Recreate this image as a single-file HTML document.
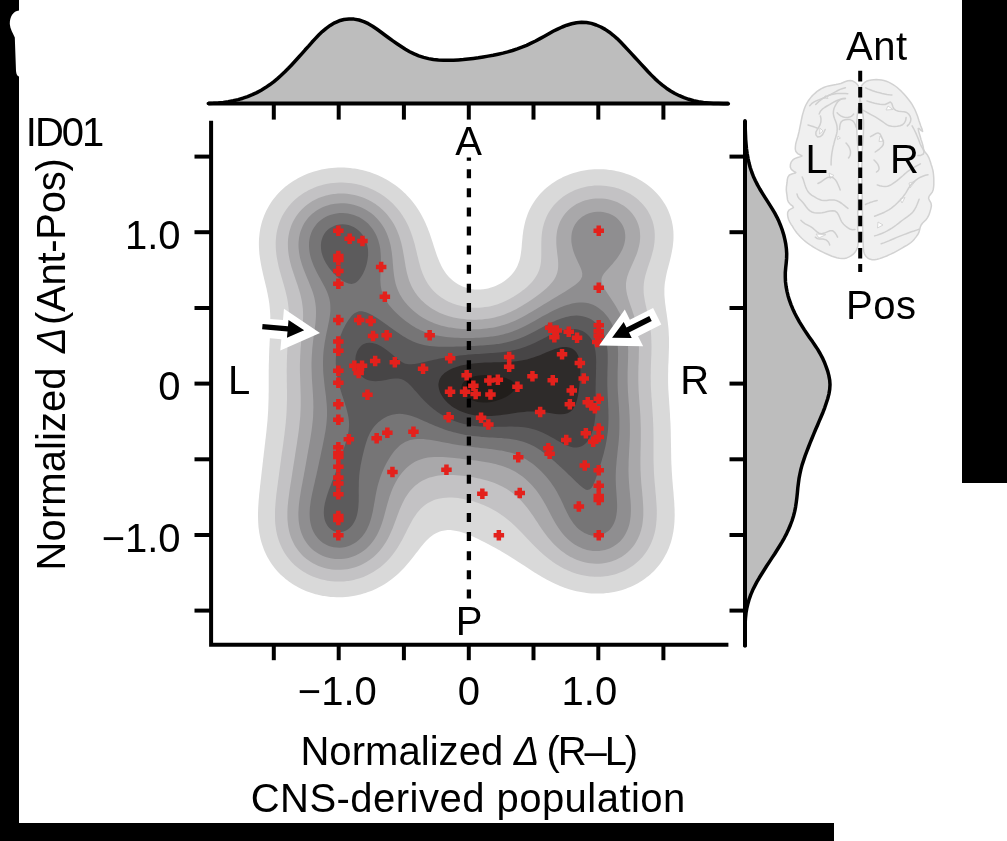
<!DOCTYPE html>
<html lang="en"><head><meta charset="utf-8"><title>Figure</title>
<style>html,body{margin:0;padding:0;background:#fff;overflow:hidden}svg text{white-space:pre}</style></head>
<body>
<svg width="1007" height="841" viewBox="0 0 1007 841" style="display:block;font-family:'Liberation Sans',sans-serif">
<rect width="1007" height="841" fill="#fff"/>
<path d="M0,0H19V10.5C13,11 9.8,17 9.8,24C10,29 13,33 14.8,37.5L16,71C16.3,74.5 17.5,76 19,76.5V823H834V841H0Z" fill="#000"/>
<rect x="962" y="0" width="45" height="483" fill="#000"/>
<defs><filter id="soft" x="0" y="0" width="100%" height="100%" filterUnits="userSpaceOnUse" color-interpolation-filters="sRGB"><feGaussianBlur stdDeviation="0.55"/></filter></defs>
<g filter="url(#soft)">
<rect x="19" y="0" width="943" height="823" fill="#fff"/>
<path d="M208.3,103.4 L213.3,103.3 L218.3,103.0 L223.3,102.4 L228.2,101.7 L233.2,100.8 L238.1,99.6 L242.9,98.2 L247.6,96.6 L252.3,94.7 L256.8,92.6 L261.2,90.2 L265.5,87.6 L269.6,84.8 L273.6,81.8 L277.5,78.6 L281.2,75.3 L284.9,71.8 L288.4,68.3 L291.8,64.7 L295.2,61.0 L298.6,57.3 L301.9,53.6 L305.2,49.8 L308.6,46.1 L311.9,42.3 L315.3,38.6 L318.7,35.0 L322.3,31.6 L326.2,28.3 L330.2,25.4 L334.6,22.8 L339.2,20.8 L344.0,19.5 L349.0,18.9 L354.0,19.1 L359.0,20.0 L363.8,21.6 L368.3,23.7 L372.6,26.2 L376.7,29.0 L380.8,32.0 L384.8,35.0 L388.9,38.0 L392.9,40.9 L397.0,43.7 L401.2,46.5 L405.4,49.2 L409.7,51.7 L414.2,53.9 L418.8,55.9 L423.6,57.4 L428.5,58.6 L433.4,59.5 L438.4,60.0 L443.4,60.3 L448.4,60.3 L453.4,60.2 L458.4,59.9 L463.4,59.6 L468.3,59.1 L473.3,58.5 L478.3,57.8 L483.2,57.0 L488.1,56.1 L493.1,55.2 L498.0,54.2 L502.9,53.1 L507.7,51.9 L512.5,50.5 L517.3,48.9 L521.9,47.2 L526.6,45.3 L531.1,43.2 L535.6,41.0 L540.0,38.6 L544.4,36.2 L548.8,33.7 L553.1,31.3 L557.6,29.1 L562.2,27.0 L566.8,25.2 L571.6,23.8 L576.5,22.7 L581.5,22.2 L586.5,22.5 L591.4,23.4 L596.2,25.0 L600.9,27.0 L605.2,29.4 L609.4,32.2 L613.3,35.3 L617.1,38.6 L620.6,42.1 L624.1,45.7 L627.5,49.4 L631.0,53.1 L634.3,56.7 L637.7,60.4 L641.1,64.1 L644.5,67.8 L647.9,71.5 L651.4,75.1 L654.9,78.6 L658.6,82.0 L662.4,85.2 L666.4,88.2 L670.6,91.0 L674.9,93.5 L679.4,95.7 L684.0,97.7 L688.8,99.3 L693.6,100.7 L698.5,101.7 L703.4,102.5 L708.4,103.0 L713.4,103.4 L718.4,103.6 L723.4,103.7 L728.4,103.7 L728.4,103.5 L208.3,103.5Z" fill="#bdbdbd"/>
<path d="M208.3,103.4 L213.3,103.3 L218.3,103.0 L223.3,102.4 L228.2,101.7 L233.2,100.8 L238.1,99.6 L242.9,98.2 L247.6,96.6 L252.3,94.7 L256.8,92.6 L261.2,90.2 L265.5,87.6 L269.6,84.8 L273.6,81.8 L277.5,78.6 L281.2,75.3 L284.9,71.8 L288.4,68.3 L291.8,64.7 L295.2,61.0 L298.6,57.3 L301.9,53.6 L305.2,49.8 L308.6,46.1 L311.9,42.3 L315.3,38.6 L318.7,35.0 L322.3,31.6 L326.2,28.3 L330.2,25.4 L334.6,22.8 L339.2,20.8 L344.0,19.5 L349.0,18.9 L354.0,19.1 L359.0,20.0 L363.8,21.6 L368.3,23.7 L372.6,26.2 L376.7,29.0 L380.8,32.0 L384.8,35.0 L388.9,38.0 L392.9,40.9 L397.0,43.7 L401.2,46.5 L405.4,49.2 L409.7,51.7 L414.2,53.9 L418.8,55.9 L423.6,57.4 L428.5,58.6 L433.4,59.5 L438.4,60.0 L443.4,60.3 L448.4,60.3 L453.4,60.2 L458.4,59.9 L463.4,59.6 L468.3,59.1 L473.3,58.5 L478.3,57.8 L483.2,57.0 L488.1,56.1 L493.1,55.2 L498.0,54.2 L502.9,53.1 L507.7,51.9 L512.5,50.5 L517.3,48.9 L521.9,47.2 L526.6,45.3 L531.1,43.2 L535.6,41.0 L540.0,38.6 L544.4,36.2 L548.8,33.7 L553.1,31.3 L557.6,29.1 L562.2,27.0 L566.8,25.2 L571.6,23.8 L576.5,22.7 L581.5,22.2 L586.5,22.5 L591.4,23.4 L596.2,25.0 L600.9,27.0 L605.2,29.4 L609.4,32.2 L613.3,35.3 L617.1,38.6 L620.6,42.1 L624.1,45.7 L627.5,49.4 L631.0,53.1 L634.3,56.7 L637.7,60.4 L641.1,64.1 L644.5,67.8 L647.9,71.5 L651.4,75.1 L654.9,78.6 L658.6,82.0 L662.4,85.2 L666.4,88.2 L670.6,91.0 L674.9,93.5 L679.4,95.7 L684.0,97.7 L688.8,99.3 L693.6,100.7 L698.5,101.7 L703.4,102.5 L708.4,103.0 L713.4,103.4 L718.4,103.6 L723.4,103.7 L728.4,103.7" fill="none" stroke="#000" stroke-width="3.5" stroke-linejoin="round" stroke-linecap="round"/>
<g stroke="#000" stroke-width="4" fill="none">
<path d="M208.3,103.6H728.6"/>
<path d="M273.8,103.6V119.6"/>
<path d="M338.7,103.6V119.6"/>
<path d="M403.9,103.6V119.6"/>
<path d="M468.8,103.6V119.6"/>
<path d="M533.5,103.6V119.6"/>
<path d="M598.3,103.6V119.6"/>
<path d="M663.4,103.6V119.6"/>
<path d="M211.1,120.7V646.8M209.1,644.8H728.4"/>
<path d="M273.8,644.8V660.2"/>
<path d="M338.7,644.8V660.2"/>
<path d="M403.9,644.8V660.2"/>
<path d="M468.8,644.8V660.2"/>
<path d="M533.5,644.8V660.2"/>
<path d="M598.3,644.8V660.2"/>
<path d="M663.4,644.8V660.2"/>
<path d="M194.5,156.6H211.1"/>
<path d="M729.5,156.6H745"/>
<path d="M194.5,232.2H211.1"/>
<path d="M729.5,232.2H745"/>
<path d="M194.5,308H211.1"/>
<path d="M729.5,308H745"/>
<path d="M194.5,383.6H211.1"/>
<path d="M729.5,383.6H745"/>
<path d="M194.5,459.3H211.1"/>
<path d="M729.5,459.3H745"/>
<path d="M194.5,535H211.1"/>
<path d="M729.5,535H745"/>
<path d="M194.5,610.6H211.1"/>
<path d="M729.5,610.6H745"/>
<path d="M745,120.7V646.4"/>
</g>
<path d="M745.0,120.7 L745.2,125.4 L745.3,130.1 L745.5,134.8 L745.7,139.6 L746.1,144.3 L746.5,149.0 L747.2,153.7 L748.0,158.3 L749.0,163.0 L750.2,167.5 L751.7,172.0 L753.4,176.4 L755.4,180.7 L757.5,184.9 L759.8,189.0 L762.3,193.1 L764.8,197.1 L767.4,201.1 L769.9,205.1 L772.4,209.1 L774.8,213.2 L777.0,217.3 L779.0,221.6 L780.8,226.0 L782.4,230.4 L783.8,235.0 L784.9,239.6 L785.8,244.2 L786.4,248.9 L786.7,253.6 L786.6,258.4 L786.2,263.1 L785.7,267.8 L785.3,272.5 L785.3,277.2 L785.5,281.9 L786.1,286.6 L787.0,291.3 L788.1,295.9 L789.5,300.4 L791.1,304.8 L792.9,309.2 L794.9,313.5 L797.1,317.7 L799.4,321.8 L801.9,325.9 L804.4,329.9 L807.0,333.8 L809.7,337.7 L812.5,341.6 L815.1,345.5 L817.7,349.4 L820.1,353.5 L822.3,357.6 L824.3,361.9 L826.0,366.3 L827.6,370.8 L828.8,375.4 L829.7,380.1 L830.0,384.7 L829.7,389.4 L828.9,394.1 L827.7,398.7 L826.2,403.3 L824.7,407.8 L823.0,412.2 L821.2,416.5 L819.3,420.9 L817.5,425.2 L815.6,429.5 L813.8,433.9 L812.0,438.2 L810.2,442.6 L808.5,447.0 L806.8,451.4 L805.1,455.9 L803.6,460.4 L802.1,464.9 L800.9,469.4 L799.9,474.0 L799.0,478.7 L798.4,483.3 L797.8,488.0 L797.4,492.7 L796.9,497.4 L796.3,502.1 L795.6,506.8 L794.7,511.4 L793.5,516.0 L792.1,520.5 L790.4,525.0 L788.6,529.3 L786.6,533.6 L784.4,537.8 L782.1,541.9 L779.6,546.0 L777.1,550.0 L774.6,554.0 L772.0,557.9 L769.4,561.9 L766.8,565.8 L764.3,569.8 L761.8,573.8 L759.3,577.8 L756.9,581.9 L754.7,586.1 L752.6,590.3 L750.8,594.7 L749.2,599.1 L747.9,603.7 L746.8,608.3 L746.0,613.0 L745.5,617.7 L745.2,622.4 L745.0,627.1 L745.0,631.8 L745.0,636.6 L745.0,641.3 L745.0,646.0 L745,646 L745,120.7Z" fill="#bdbdbd"/>
<path d="M745.0,120.7 L745.2,125.4 L745.3,130.1 L745.5,134.8 L745.7,139.6 L746.1,144.3 L746.5,149.0 L747.2,153.7 L748.0,158.3 L749.0,163.0 L750.2,167.5 L751.7,172.0 L753.4,176.4 L755.4,180.7 L757.5,184.9 L759.8,189.0 L762.3,193.1 L764.8,197.1 L767.4,201.1 L769.9,205.1 L772.4,209.1 L774.8,213.2 L777.0,217.3 L779.0,221.6 L780.8,226.0 L782.4,230.4 L783.8,235.0 L784.9,239.6 L785.8,244.2 L786.4,248.9 L786.7,253.6 L786.6,258.4 L786.2,263.1 L785.7,267.8 L785.3,272.5 L785.3,277.2 L785.5,281.9 L786.1,286.6 L787.0,291.3 L788.1,295.9 L789.5,300.4 L791.1,304.8 L792.9,309.2 L794.9,313.5 L797.1,317.7 L799.4,321.8 L801.9,325.9 L804.4,329.9 L807.0,333.8 L809.7,337.7 L812.5,341.6 L815.1,345.5 L817.7,349.4 L820.1,353.5 L822.3,357.6 L824.3,361.9 L826.0,366.3 L827.6,370.8 L828.8,375.4 L829.7,380.1 L830.0,384.7 L829.7,389.4 L828.9,394.1 L827.7,398.7 L826.2,403.3 L824.7,407.8 L823.0,412.2 L821.2,416.5 L819.3,420.9 L817.5,425.2 L815.6,429.5 L813.8,433.9 L812.0,438.2 L810.2,442.6 L808.5,447.0 L806.8,451.4 L805.1,455.9 L803.6,460.4 L802.1,464.9 L800.9,469.4 L799.9,474.0 L799.0,478.7 L798.4,483.3 L797.8,488.0 L797.4,492.7 L796.9,497.4 L796.3,502.1 L795.6,506.8 L794.7,511.4 L793.5,516.0 L792.1,520.5 L790.4,525.0 L788.6,529.3 L786.6,533.6 L784.4,537.8 L782.1,541.9 L779.6,546.0 L777.1,550.0 L774.6,554.0 L772.0,557.9 L769.4,561.9 L766.8,565.8 L764.3,569.8 L761.8,573.8 L759.3,577.8 L756.9,581.9 L754.7,586.1 L752.6,590.3 L750.8,594.7 L749.2,599.1 L747.9,603.7 L746.8,608.3 L746.0,613.0 L745.5,617.7 L745.2,622.4 L745.0,627.1 L745.0,631.8 L745.0,636.6 L745.0,641.3 L745.0,646.0" fill="none" stroke="#000" stroke-width="3.5" stroke-linejoin="round" stroke-linecap="round"/>
<path d="M745,120.7V646.4" stroke="#000" stroke-width="4"/>
<path d="M329.0,168.3 332.0,168.0 335.0,167.8 338.0,167.6 341.0,167.6 344.0,167.6 347.0,167.8 350.0,168.1 353.0,168.4 354.5,168.6 357.5,169.1 360.5,169.7 362.0,170.0 365.0,170.8 367.5,171.5 369.5,172.1 372.1,173.0 374.0,173.7 376.1,174.5 378.5,175.5 380.0,176.2 382.7,177.5 384.5,178.4 386.0,179.2 388.2,180.5 390.5,181.9 392.0,182.9 393.5,183.9 395.1,185.0 397.1,186.5 399.0,188.0 400.8,189.5 402.5,191.0 404.0,192.4 405.5,193.8 407.0,195.4 408.5,197.0 409.9,198.5 411.2,200.0 412.4,201.5 413.6,203.0 414.7,204.5 416.0,206.3 417.5,208.5 418.8,210.5 419.7,212.0 420.6,213.5 422.0,216.1 423.0,218.0 423.8,219.5 425.0,222.1 425.9,224.0 426.5,225.5 427.8,228.5 428.3,230.0 429.5,233.0 430.0,234.5 431.0,237.4 431.5,239.0 432.5,242.0 433.0,243.5 433.9,246.5 434.4,248.0 435.4,251.0 435.9,252.5 436.9,255.5 437.5,257.0 438.5,259.6 439.3,261.5 440.0,263.1 441.4,266.0 442.2,267.5 443.0,269.0 444.5,271.3 446.0,273.4 447.2,275.0 448.5,276.5 450.0,278.0 451.6,279.5 453.3,281.0 455.0,282.3 456.5,283.3 458.0,284.2 460.5,285.5 462.5,286.4 464.0,287.0 467.0,288.0 469.0,288.5 471.5,289.0 474.5,289.4 477.5,289.5 480.5,289.5 483.5,289.2 486.5,288.7 488.0,288.4 491.0,287.6 492.8,287.0 495.5,285.9 497.0,285.3 499.5,284.0 501.5,282.9 503.0,281.9 504.5,280.9 506.4,279.5 508.2,278.0 509.8,276.5 511.3,275.0 512.6,273.5 513.8,272.0 515.0,270.3 516.5,267.7 517.4,266.0 518.0,264.5 519.1,261.5 519.6,260.0 520.3,257.0 520.8,254.0 521.0,252.5 521.4,249.5 521.7,246.5 521.9,243.5 522.2,240.5 522.5,237.5 522.6,236.0 523.0,233.0 523.4,230.0 524.0,227.0 524.3,225.5 525.0,222.5 525.5,220.5 526.3,218.0 527.0,215.9 527.9,213.5 528.5,212.0 529.9,209.0 530.7,207.5 531.5,206.0 533.0,203.5 534.3,201.5 535.3,200.0 536.4,198.5 537.6,197.0 539.0,195.3 540.5,193.6 542.0,192.0 543.5,190.5 545.0,189.1 546.5,187.8 548.1,186.5 550.0,185.0 552.0,183.5 554.0,182.2 555.5,181.2 557.0,180.3 559.3,179.0 561.5,177.9 563.0,177.1 565.5,176.0 567.5,175.2 569.2,174.5 572.0,173.5 573.6,173.0 576.5,172.2 579.1,171.5 581.0,171.1 584.0,170.5 587.0,170.0 588.5,169.8 591.5,169.5 594.5,169.3 597.5,169.2 600.5,169.2 603.5,169.3 606.5,169.5 609.5,169.9 611.0,170.1 614.0,170.6 617.0,171.2 618.5,171.5 621.5,172.3 624.0,173.0 626.0,173.7 628.4,174.5 630.5,175.3 632.1,176.0 635.0,177.3 636.5,178.1 638.2,179.0 640.9,180.5 642.5,181.5 644.0,182.5 645.5,183.5 647.6,185.0 649.5,186.5 651.3,188.0 653.0,189.5 654.5,190.9 656.0,192.5 657.4,194.0 658.7,195.5 660.0,197.0 661.1,198.5 662.2,200.0 663.5,201.9 665.0,204.3 666.0,206.0 666.8,207.5 668.0,210.1 668.8,212.0 669.5,213.7 670.5,216.5 671.0,218.2 671.8,221.0 672.4,224.0 672.7,225.5 673.1,228.5 673.4,231.5 673.5,234.5 673.5,237.5 673.4,240.5 673.1,243.5 672.8,246.5 672.5,248.2 672.0,251.0 671.4,254.0 671.0,256.0 670.4,258.5 669.7,261.5 669.3,263.0 668.5,266.0 668.0,267.9 667.3,270.5 666.6,273.5 666.3,275.0 665.7,278.0 665.2,281.0 664.9,282.5 664.6,285.5 664.4,288.5 664.4,291.5 664.4,294.5 664.6,297.5 664.9,300.5 665.0,302.0 665.4,305.0 665.8,308.0 666.2,311.0 666.5,312.8 666.9,315.5 667.3,318.5 667.7,321.5 668.0,324.2 668.2,326.0 668.5,329.0 668.7,332.0 668.8,335.0 669.0,338.0 669.0,341.0 669.0,344.0 669.0,347.0 668.9,350.0 668.8,353.0 668.7,356.0 668.6,359.0 668.5,362.0 668.3,365.0 668.2,368.0 668.2,371.0 668.1,374.0 668.1,377.0 668.1,380.0 668.1,383.0 668.2,386.0 668.3,389.0 668.5,392.0 668.7,395.0 668.9,398.0 669.1,401.0 669.3,404.0 669.5,407.0 669.6,408.5 669.8,411.5 670.0,414.5 670.1,417.5 670.3,420.5 670.5,423.5 670.6,426.5 670.7,429.5 670.8,432.5 670.8,435.5 670.9,438.5 670.9,441.5 671.0,444.5 671.0,446.0 671.1,449.0 671.1,452.0 671.2,455.0 671.2,458.0 671.3,461.0 671.4,464.0 671.6,467.0 671.7,470.0 671.9,473.0 672.1,476.0 672.3,479.0 672.5,481.5 672.7,483.5 672.9,486.5 673.2,489.5 673.5,492.5 673.7,495.5 673.9,498.5 674.1,500.0 674.3,503.0 674.4,506.0 674.6,509.0 674.6,512.0 674.7,515.0 674.6,518.0 674.5,521.0 674.3,524.0 674.0,526.9 673.8,528.5 673.4,531.5 672.8,534.5 672.5,536.1 671.8,539.0 671.0,541.9 670.5,543.5 669.5,546.3 668.9,548.0 668.0,550.1 666.9,552.5 666.1,554.0 665.0,556.1 663.6,558.5 662.7,560.0 661.7,561.5 660.5,563.2 659.0,565.2 657.5,567.0 656.0,568.7 654.5,570.4 653.0,571.9 651.5,573.3 650.0,574.7 648.5,575.9 647.0,577.1 645.5,578.3 643.8,579.5 641.6,581.0 639.5,582.3 638.0,583.2 636.5,584.0 633.6,585.5 632.0,586.2 630.3,587.0 627.5,588.1 626.0,588.7 623.0,589.7 621.5,590.2 618.5,591.0 616.4,591.5 614.0,592.0 611.0,592.6 608.0,593.0 606.5,593.1 603.5,593.4 600.5,593.6 597.5,593.6 594.5,593.6 591.5,593.4 588.5,593.2 586.8,593.0 584.0,592.6 581.0,592.1 578.0,591.5 576.5,591.2 573.5,590.5 571.8,590.0 569.0,589.2 566.9,588.5 564.5,587.7 562.7,587.0 560.0,585.9 558.5,585.3 555.6,584.0 554.0,583.3 552.4,582.5 549.5,581.0 548.0,580.3 546.5,579.5 543.9,578.0 542.0,576.9 540.5,576.0 538.7,575.0 536.3,573.5 534.5,572.4 533.0,571.4 531.5,570.5 529.2,569.0 527.0,567.6 525.5,566.6 524.0,565.6 522.3,564.5 520.0,563.0 518.0,561.7 516.5,560.7 515.0,559.8 513.0,558.5 510.6,557.0 509.0,556.0 507.5,555.1 505.7,554.0 503.2,552.5 501.5,551.5 500.0,550.6 498.0,549.5 495.5,548.1 494.0,547.3 492.5,546.4 489.8,545.0 488.0,544.0 486.5,543.2 484.1,542.0 482.0,540.9 480.5,540.2 478.2,539.0 476.0,538.0 474.5,537.3 471.7,536.0 470.0,535.3 468.1,534.5 465.5,533.5 464.0,533.0 461.0,532.0 459.2,531.5 456.5,530.9 453.5,530.4 450.5,530.1 447.5,530.1 444.5,530.4 441.5,531.0 439.9,531.5 437.0,532.7 435.5,533.4 433.7,534.5 431.6,536.0 429.7,537.5 428.1,539.0 426.5,540.5 425.1,542.0 423.8,543.5 422.6,545.0 421.3,546.5 420.1,548.0 419.0,549.5 417.5,551.4 416.0,553.3 414.5,555.3 413.2,557.0 412.0,558.5 410.8,560.0 409.6,561.5 408.3,563.0 407.0,564.6 405.5,566.3 404.0,567.9 402.5,569.5 401.0,571.0 399.5,572.5 398.0,573.9 396.5,575.2 395.0,576.5 393.2,578.0 391.3,579.5 389.2,581.0 387.5,582.2 386.0,583.2 384.5,584.2 382.3,585.5 380.0,586.8 378.5,587.6 376.7,588.5 374.0,589.7 372.5,590.4 369.7,591.5 368.0,592.1 365.5,593.0 363.5,593.6 360.5,594.4 359.0,594.8 356.0,595.5 353.2,596.0 351.5,596.3 348.5,596.7 345.5,597.0 342.5,597.2 339.5,597.2 336.5,597.2 333.5,597.1 330.5,596.9 327.5,596.6 324.5,596.1 323.0,595.9 320.0,595.3 317.0,594.6 315.5,594.2 312.5,593.3 311.0,592.8 308.0,591.8 306.5,591.2 303.7,590.0 302.0,589.3 300.5,588.5 297.6,587.0 296.0,586.1 294.5,585.2 292.5,584.0 290.3,582.5 288.5,581.2 287.0,580.1 285.5,578.9 284.0,577.6 282.5,576.3 281.0,574.9 279.5,573.4 278.0,571.9 276.5,570.2 275.0,568.4 273.5,566.5 272.0,564.5 271.0,563.0 270.0,561.5 269.0,559.8 267.5,557.2 266.6,555.5 265.9,554.0 264.5,551.0 263.9,549.5 263.0,547.1 262.3,545.0 261.5,542.5 260.9,540.5 260.2,537.5 259.9,536.0 259.3,533.0 258.9,530.0 258.5,527.0 258.4,525.5 258.2,522.5 258.1,519.5 258.0,516.5 258.0,513.5 258.1,510.5 258.2,507.5 258.4,504.5 258.5,502.7 258.7,500.0 259.0,497.0 259.2,494.0 259.6,491.0 259.9,488.0 260.0,486.5 260.4,483.5 260.7,480.5 261.1,477.5 261.4,474.5 261.6,473.0 261.9,470.0 262.3,467.0 262.6,464.0 263.0,461.0 263.1,459.5 263.5,456.5 263.8,453.5 264.2,450.5 264.5,448.0 264.7,446.0 265.1,443.0 265.4,440.0 265.8,437.0 266.0,435.1 266.3,432.5 266.6,429.5 266.9,426.5 267.2,423.5 267.5,420.5 267.6,419.0 267.8,416.0 268.0,413.0 268.2,410.0 268.3,407.0 268.4,404.0 268.5,401.0 268.6,398.0 268.6,395.0 268.7,392.0 268.7,389.0 268.7,386.0 268.7,383.0 268.7,380.0 268.7,377.0 268.7,374.0 268.7,371.0 268.8,368.0 268.8,365.0 268.9,362.0 269.0,359.0 269.0,357.5 269.1,354.5 269.2,351.5 269.3,348.5 269.5,345.5 269.6,342.5 269.8,339.5 269.9,336.5 270.1,333.5 270.2,330.5 270.3,327.5 270.4,324.5 270.4,321.5 270.3,318.5 270.3,315.5 270.1,312.5 269.9,309.5 269.6,306.5 269.3,303.5 269.0,301.7 268.6,299.0 268.0,296.0 267.5,293.2 267.1,291.5 266.5,288.5 266.0,286.4 265.4,284.0 264.7,281.0 264.3,279.5 263.6,276.5 263.0,273.9 262.6,272.0 261.9,269.0 261.5,267.0 261.0,264.5 260.5,261.5 260.0,258.5 259.8,257.0 259.4,254.0 259.2,251.0 259.0,248.0 258.9,245.0 258.9,242.0 259.0,239.0 259.3,236.0 259.6,233.0 260.0,230.5 260.3,228.5 261.0,225.5 261.5,223.6 262.2,221.0 263.0,218.7 263.8,216.5 264.5,214.7 265.7,212.0 266.4,210.5 267.5,208.4 268.9,206.0 269.8,204.5 270.7,203.0 272.0,201.1 273.5,199.1 275.0,197.2 276.4,195.5 277.7,194.0 279.1,192.5 280.6,191.0 282.2,189.5 283.9,188.0 285.5,186.6 287.0,185.4 288.5,184.3 290.0,183.2 291.8,182.0 294.1,180.5 296.0,179.4 297.5,178.5 299.4,177.5 302.0,176.2 303.5,175.5 305.8,174.5 308.0,173.6 309.6,173.0 312.5,172.0 314.1,171.5 317.0,170.7 319.7,170.0 321.5,169.6 324.5,169.0 327.5,168.5 329.0,168.3Z" fill="#d9d9d9"/>
<path d="M330.5,183.3 333.5,182.9 336.5,182.7 339.5,182.6 342.5,182.6 345.5,182.7 348.5,182.9 351.5,183.3 353.0,183.5 356.0,184.1 359.0,184.8 360.5,185.1 363.5,186.0 365.0,186.5 368.0,187.6 369.5,188.2 372.5,189.5 374.0,190.2 375.5,191.0 378.2,192.5 380.0,193.6 381.5,194.5 383.0,195.5 385.1,197.0 387.0,198.5 388.9,200.0 390.5,201.4 392.0,202.8 393.5,204.3 395.0,205.9 396.4,207.5 397.7,209.0 398.9,210.5 400.1,212.0 401.1,213.5 402.5,215.5 404.0,217.9 405.0,219.5 405.8,221.0 407.0,223.3 408.1,225.5 408.8,227.0 410.0,229.9 410.6,231.5 411.5,233.9 412.2,236.0 413.0,238.4 413.6,240.5 414.5,243.5 414.9,245.0 415.6,248.0 416.0,249.5 416.7,252.5 417.4,255.5 417.8,257.0 418.5,260.0 419.0,262.0 419.7,264.5 420.5,267.4 421.0,269.0 422.0,271.8 422.6,273.5 423.5,275.6 424.6,278.0 425.4,279.5 426.5,281.5 428.0,283.9 429.1,285.5 430.2,287.0 431.4,288.5 432.7,290.0 434.1,291.5 435.7,293.0 437.4,294.5 439.3,296.0 441.3,297.5 443.0,298.6 444.5,299.5 446.2,300.5 449.0,301.9 450.5,302.6 452.8,303.5 455.0,304.3 457.2,305.0 459.5,305.6 462.5,306.3 464.0,306.6 467.0,307.1 470.0,307.5 473.0,307.7 476.0,307.7 479.0,307.7 482.0,307.5 485.0,307.1 488.0,306.7 489.5,306.4 492.5,305.7 495.0,305.0 497.0,304.4 499.5,303.5 501.5,302.7 503.3,302.0 506.0,300.8 507.5,300.0 509.5,299.0 512.0,297.6 513.5,296.7 515.0,295.8 517.0,294.5 519.2,293.0 521.0,291.7 522.5,290.6 524.0,289.4 525.5,288.2 527.0,286.9 528.5,285.5 530.0,284.0 531.5,282.4 533.0,280.7 534.5,278.7 536.0,276.5 536.9,275.0 537.7,273.5 539.0,270.5 539.5,269.0 540.3,266.0 540.6,264.5 541.0,261.5 541.2,258.5 541.3,255.5 541.3,252.5 541.3,249.5 541.3,246.5 541.3,243.5 541.4,240.5 541.5,237.5 541.8,234.5 542.0,232.8 542.4,230.0 543.0,227.0 543.5,225.2 544.3,222.5 545.0,220.4 546.0,218.0 546.6,216.5 548.0,213.8 549.0,212.0 550.0,210.5 551.0,209.0 552.5,206.9 554.0,205.1 555.5,203.4 557.0,201.9 558.5,200.5 560.0,199.2 561.5,197.9 563.0,196.8 564.9,195.5 567.3,194.0 569.0,193.0 570.5,192.2 573.0,191.0 575.0,190.1 576.6,189.5 579.5,188.5 581.1,188.0 584.0,187.2 587.0,186.6 588.5,186.3 591.5,185.9 594.5,185.6 597.5,185.5 600.5,185.5 603.5,185.7 606.5,186.0 609.5,186.4 611.0,186.7 614.0,187.3 616.5,188.0 618.5,188.6 621.0,189.5 623.0,190.3 624.6,191.0 627.5,192.4 629.0,193.2 630.5,194.1 632.7,195.5 634.8,197.0 636.5,198.3 638.0,199.6 639.5,200.9 641.0,202.4 642.5,204.0 644.0,205.7 645.4,207.5 646.5,209.0 647.5,210.5 648.5,212.2 650.0,215.0 650.7,216.5 651.5,218.4 652.5,221.0 653.0,222.8 653.7,225.5 654.2,228.5 654.5,230.4 654.7,233.0 654.8,236.0 654.7,239.0 654.5,242.0 654.3,243.5 653.9,246.5 653.3,249.5 652.9,251.0 652.1,254.0 651.5,256.2 650.8,258.5 650.0,261.0 649.3,263.0 648.5,265.4 647.8,267.5 647.0,269.9 646.4,272.0 645.5,275.0 645.1,276.5 644.5,279.5 644.0,282.3 643.8,284.0 643.6,287.0 643.6,290.0 643.7,293.0 644.0,295.4 644.3,297.5 644.8,300.5 645.4,303.5 645.7,305.0 646.4,308.0 647.0,310.7 647.4,312.5 648.1,315.5 648.5,317.5 649.0,320.0 649.6,323.0 650.0,325.7 650.3,327.5 650.6,330.5 651.0,333.5 651.2,336.5 651.3,339.5 651.4,342.5 651.5,345.5 651.5,348.5 651.4,351.5 651.4,354.5 651.2,357.5 651.1,360.5 651.0,363.5 650.9,366.5 650.8,369.5 650.8,372.5 650.7,375.5 650.7,378.5 650.8,381.5 650.8,384.5 650.9,387.5 651.1,390.5 651.3,393.5 651.4,396.5 651.6,398.0 651.8,401.0 652.0,404.0 652.2,407.0 652.4,410.0 652.6,413.0 652.8,416.0 653.0,419.0 653.0,420.5 653.2,423.5 653.3,426.5 653.4,429.5 653.4,432.5 653.5,435.5 653.5,438.5 653.5,441.5 653.5,444.5 653.5,447.5 653.5,450.5 653.5,453.5 653.5,456.5 653.5,459.5 653.6,462.5 653.7,465.5 653.8,468.5 653.9,471.5 654.1,474.5 654.3,477.5 654.5,480.5 654.6,482.0 654.9,485.0 655.2,488.0 655.4,491.0 655.7,494.0 656.0,497.0 656.1,498.5 656.3,501.5 656.5,504.5 656.7,507.5 656.8,510.5 656.8,513.5 656.7,516.5 656.6,519.5 656.3,522.5 656.0,525.5 655.8,527.0 655.3,530.0 654.6,533.0 654.2,534.5 653.3,537.5 652.8,539.0 651.6,542.0 651.0,543.5 650.0,545.6 648.7,548.0 647.8,549.5 646.9,551.0 645.5,553.0 644.0,555.0 642.5,556.9 641.0,558.5 639.6,560.0 638.0,561.5 636.5,562.8 635.0,564.1 633.5,565.2 632.0,566.3 630.1,567.5 627.6,569.0 626.0,569.9 624.5,570.7 621.5,572.0 620.0,572.6 617.5,573.5 615.5,574.2 612.5,575.0 611.0,575.3 608.0,575.9 605.0,576.3 603.5,576.5 600.5,576.7 597.5,576.8 594.5,576.8 591.5,576.6 590.0,576.5 587.0,576.1 584.0,575.6 581.4,575.0 579.5,574.5 576.5,573.7 575.0,573.2 572.0,572.2 570.5,571.6 568.0,570.5 566.0,569.6 564.5,568.9 561.9,567.5 560.0,566.5 558.5,565.6 556.7,564.5 554.4,563.0 552.5,561.7 551.0,560.6 549.5,559.5 548.0,558.3 546.4,557.0 544.6,555.5 542.8,554.0 541.2,552.5 539.5,551.0 538.0,549.5 536.4,548.0 534.9,546.5 533.4,545.0 531.9,543.5 530.5,542.0 529.1,540.5 527.6,539.0 526.2,537.5 524.8,536.0 523.4,534.5 522.0,533.0 520.5,531.5 519.0,530.0 517.5,528.5 516.0,527.0 514.5,525.5 512.8,524.0 511.2,522.5 509.4,521.0 507.6,519.5 506.0,518.2 504.5,517.1 503.0,515.9 501.5,514.9 499.4,513.5 497.1,512.0 495.5,511.1 494.0,510.2 491.8,509.0 489.5,507.8 488.0,507.1 485.6,506.0 483.5,505.1 482.0,504.5 479.0,503.3 477.5,502.8 474.5,501.8 473.0,501.3 470.0,500.5 468.1,500.0 465.5,499.4 462.5,498.8 460.7,498.5 458.0,498.1 455.0,497.8 452.0,497.6 449.0,497.6 446.0,497.7 443.0,498.0 440.0,498.5 438.5,498.8 435.5,499.6 434.0,500.1 431.0,501.4 429.5,502.2 428.0,503.0 425.7,504.5 423.8,506.0 422.1,507.5 420.5,509.0 419.2,510.5 417.9,512.0 416.7,513.5 415.7,515.0 414.5,516.7 413.0,519.1 411.9,521.0 411.1,522.5 410.0,524.5 408.7,527.0 407.9,528.5 407.0,530.3 405.7,533.0 404.9,534.5 404.0,536.3 402.6,539.0 401.8,540.5 400.9,542.0 399.5,544.5 398.3,546.5 397.4,548.0 396.4,549.5 395.0,551.5 393.5,553.6 392.0,555.5 390.8,557.0 389.5,558.5 388.1,560.0 386.7,561.5 385.1,563.0 383.5,564.5 381.8,566.0 380.0,567.4 378.5,568.6 377.0,569.6 375.5,570.6 373.3,572.0 371.0,573.3 369.5,574.1 367.7,575.0 365.0,576.2 363.5,576.9 360.5,578.0 359.0,578.5 356.0,579.3 354.5,579.7 351.5,580.4 348.5,580.9 347.0,581.1 344.0,581.4 341.0,581.6 338.0,581.6 335.0,581.5 332.0,581.3 329.5,581.0 327.5,580.7 324.5,580.1 321.7,579.5 320.0,579.0 317.0,578.1 315.5,577.6 312.7,576.5 311.0,575.7 309.4,575.0 306.5,573.5 305.0,572.6 303.5,571.7 301.6,570.5 299.5,569.0 297.6,567.5 296.0,566.2 294.5,564.9 293.0,563.4 291.5,561.9 290.0,560.2 288.6,558.5 287.4,557.0 286.3,555.5 285.3,554.0 284.0,551.9 282.7,549.5 281.9,548.0 281.0,546.1 279.9,543.5 279.3,542.0 278.3,539.0 277.8,537.5 277.0,534.5 276.5,532.0 276.1,530.0 275.7,527.0 275.3,524.0 275.1,521.0 275.0,518.5 275.0,516.5 275.0,513.5 275.0,511.6 275.1,509.0 275.3,506.0 275.5,503.0 275.8,500.0 276.1,497.0 276.4,494.0 276.6,492.5 277.0,489.5 277.4,486.5 277.8,483.5 278.0,481.8 278.4,479.0 278.8,476.0 279.2,473.0 279.5,470.8 279.8,468.5 280.2,465.5 280.6,462.5 281.0,459.7 281.2,458.0 281.6,455.0 282.0,452.0 282.5,449.0 282.7,447.5 283.1,444.5 283.5,441.5 283.9,438.5 284.1,437.0 284.5,434.0 284.8,431.0 285.2,428.0 285.5,425.1 285.7,423.5 285.9,420.5 286.2,417.5 286.4,414.5 286.6,411.5 286.7,408.5 286.8,405.5 286.9,402.5 287.0,399.5 287.0,396.5 287.0,393.5 287.0,390.5 286.9,387.5 286.9,384.5 286.8,381.5 286.8,378.5 286.8,375.5 286.7,372.5 286.7,369.5 286.8,366.5 286.8,363.5 286.9,360.5 287.0,357.5 287.0,356.0 287.2,353.0 287.3,350.0 287.5,347.0 287.7,344.0 287.9,341.0 288.1,338.0 288.3,335.0 288.5,332.2 288.6,330.5 288.8,327.5 288.9,324.5 289.0,321.5 289.0,318.5 289.0,315.5 288.9,312.5 288.7,309.5 288.5,307.4 288.2,305.0 287.8,302.0 287.3,299.0 287.0,297.5 286.3,294.5 285.6,291.5 285.2,290.0 284.4,287.0 284.0,285.5 283.1,282.5 282.5,280.4 281.8,278.0 281.0,275.2 280.5,273.5 279.7,270.5 279.3,269.0 278.5,266.0 278.0,263.6 277.6,261.5 277.0,258.5 276.5,255.5 276.3,254.0 276.0,251.0 275.8,248.0 275.7,245.0 275.7,242.0 275.9,239.0 276.2,236.0 276.5,233.8 276.9,231.5 277.6,228.5 278.0,226.9 278.9,224.0 279.5,222.3 280.6,219.5 281.3,218.0 282.5,215.6 283.7,213.5 284.6,212.0 285.6,210.5 287.0,208.4 288.5,206.5 290.0,204.7 291.5,203.0 293.0,201.5 294.5,200.1 296.0,198.7 297.5,197.5 299.0,196.3 300.5,195.2 302.2,194.0 304.5,192.5 306.5,191.4 308.0,190.5 310.1,189.5 312.5,188.4 314.0,187.8 317.0,186.6 318.5,186.1 321.5,185.2 323.0,184.8 326.0,184.1 329.0,183.6 330.5,183.3Z" fill="#c3c2c4"/>
<path d="M335.0,193.9 338.0,193.6 341.0,193.5 344.0,193.6 347.0,193.8 348.6,194.0 351.5,194.4 354.5,195.0 356.5,195.5 359.0,196.2 361.5,197.0 363.5,197.7 365.3,198.5 368.0,199.7 369.5,200.5 371.3,201.5 373.8,203.0 375.5,204.1 377.0,205.2 378.5,206.3 380.0,207.5 381.7,209.0 383.3,210.5 384.8,212.0 386.2,213.5 387.5,215.0 389.0,216.9 390.5,218.9 391.9,221.0 392.9,222.5 393.8,224.0 395.0,226.3 396.1,228.5 396.8,230.0 398.0,232.9 398.6,234.5 399.5,237.0 400.1,239.0 401.0,242.0 401.4,243.5 402.1,246.5 402.5,248.5 403.0,251.0 403.5,254.0 404.0,256.7 404.3,258.5 404.8,261.5 405.3,264.5 405.5,266.0 406.1,269.0 406.7,272.0 407.1,273.5 407.9,276.5 408.5,278.6 409.3,281.0 410.0,282.7 411.2,285.5 411.9,287.0 413.0,289.0 414.5,291.5 415.5,293.0 416.6,294.5 417.7,296.0 419.0,297.5 420.5,299.2 422.0,300.7 423.5,302.1 425.0,303.5 426.9,305.0 428.9,306.5 431.0,308.0 432.5,308.9 434.0,309.8 436.1,311.0 438.5,312.2 440.0,312.9 442.6,314.0 444.5,314.7 446.7,315.5 449.0,316.2 451.9,317.0 453.5,317.4 456.5,318.0 459.1,318.5 461.0,318.8 464.0,319.1 467.0,319.4 470.0,319.6 473.0,319.7 476.0,319.7 479.0,319.6 482.0,319.4 485.0,319.1 488.0,318.7 489.5,318.4 492.5,317.9 495.5,317.2 497.0,316.8 500.0,315.9 501.5,315.4 504.5,314.4 506.0,313.8 509.0,312.5 510.5,311.9 512.3,311.0 515.0,309.7 516.5,308.9 518.1,308.0 520.8,306.5 522.5,305.5 524.0,304.6 525.7,303.5 528.1,302.0 530.0,300.7 531.5,299.7 533.0,298.7 534.7,297.5 536.8,296.0 538.8,294.5 540.5,293.2 542.0,292.0 543.5,290.8 545.0,289.5 546.5,288.2 548.0,286.8 549.5,285.3 551.0,283.6 552.5,281.8 554.0,279.7 555.0,278.0 555.8,276.5 557.0,273.5 557.4,272.0 558.0,269.0 558.2,266.0 558.2,263.0 558.0,260.0 557.7,257.0 557.3,254.0 557.0,251.2 556.8,249.5 556.5,246.5 556.3,243.5 556.3,240.5 556.3,237.5 556.6,234.5 557.0,231.6 557.3,230.0 558.1,227.0 558.6,225.5 559.7,222.5 560.4,221.0 561.5,218.9 563.0,216.5 564.1,215.0 565.2,213.5 566.6,212.0 568.0,210.5 569.6,209.0 571.4,207.5 573.5,206.0 575.0,205.0 576.5,204.1 578.7,203.0 581.0,201.9 582.5,201.3 585.5,200.3 587.0,199.9 590.0,199.2 593.0,198.7 595.7,198.5 597.5,198.4 600.5,198.4 602.0,198.5 605.0,198.8 608.0,199.3 610.9,200.0 612.5,200.5 615.5,201.5 617.0,202.1 618.9,203.0 621.5,204.4 623.0,205.3 624.5,206.3 626.1,207.5 627.9,209.0 629.5,210.5 630.9,212.0 632.2,213.5 633.5,215.2 635.0,217.5 636.1,219.5 636.9,221.0 638.0,223.7 638.6,225.5 639.4,228.5 639.7,230.0 640.0,233.0 640.2,236.0 640.1,239.0 639.8,242.0 639.5,243.8 638.9,246.5 638.1,249.5 637.7,251.0 636.7,254.0 636.1,255.5 635.0,258.1 634.2,260.0 633.5,261.6 632.2,264.5 631.5,266.0 630.5,268.2 629.5,270.5 628.9,272.0 627.8,275.0 627.3,276.5 626.6,279.5 626.1,282.5 626.0,284.0 626.0,287.0 626.1,288.5 626.5,291.5 627.1,294.5 627.5,296.1 628.3,299.0 629.0,301.1 629.8,303.5 630.5,305.5 631.4,308.0 632.0,309.7 632.9,312.5 633.5,314.2 634.4,317.0 635.0,319.2 635.6,321.5 636.4,324.5 636.7,326.0 637.3,329.0 637.8,332.0 638.0,333.7 638.3,336.5 638.6,339.5 638.8,342.5 638.9,345.5 638.9,348.5 638.9,351.5 638.8,354.5 638.8,357.5 638.7,360.5 638.6,363.5 638.4,366.5 638.4,369.5 638.3,372.5 638.3,375.5 638.3,378.5 638.3,381.5 638.4,384.5 638.5,387.5 638.6,390.5 638.8,393.5 639.0,396.5 639.2,399.5 639.4,402.5 639.5,404.0 639.8,407.0 640.0,410.0 640.2,413.0 640.4,416.0 640.5,419.0 640.6,422.0 640.7,425.0 640.8,428.0 640.8,431.0 640.8,434.0 640.8,437.0 640.8,440.0 640.7,443.0 640.7,446.0 640.6,449.0 640.5,452.0 640.5,455.0 640.4,458.0 640.4,461.0 640.4,464.0 640.5,467.0 640.5,470.0 640.7,473.0 640.8,476.0 641.0,479.0 641.1,480.5 641.3,483.5 641.6,486.5 641.9,489.5 642.2,492.5 642.4,495.5 642.6,497.0 642.8,500.0 643.0,503.0 643.2,506.0 643.3,509.0 643.3,512.0 643.3,515.0 643.1,518.0 642.8,521.0 642.5,523.4 642.2,525.5 641.5,528.5 641.0,530.4 640.2,533.0 639.5,535.0 638.4,537.5 637.7,539.0 636.5,541.3 635.2,543.5 634.2,545.0 633.1,546.5 631.8,548.0 630.5,549.5 629.0,551.0 627.4,552.5 625.6,554.0 623.6,555.5 621.5,556.9 620.0,557.8 618.5,558.6 615.5,560.0 614.0,560.6 611.4,561.5 609.5,562.1 606.5,562.8 605.0,563.0 602.0,563.5 599.0,563.7 596.0,563.7 593.0,563.6 590.0,563.3 588.1,563.0 585.5,562.5 582.5,561.7 581.0,561.3 578.0,560.3 576.5,559.7 573.8,558.5 572.0,557.6 570.5,556.9 568.1,555.5 566.0,554.2 564.5,553.1 563.0,552.1 561.5,550.9 559.7,549.5 558.0,548.0 556.4,546.5 554.8,545.0 553.3,543.5 551.9,542.0 550.6,540.5 549.3,539.0 548.0,537.4 546.5,535.5 545.0,533.5 543.5,531.5 542.5,530.0 541.4,528.5 540.4,527.0 539.0,524.9 537.5,522.6 536.4,521.0 535.4,519.5 534.5,518.0 533.0,515.8 531.5,513.7 530.3,512.0 529.2,510.5 528.1,509.0 527.0,507.5 525.5,505.7 524.0,503.9 522.5,502.2 521.0,500.6 519.5,499.1 518.0,497.6 516.5,496.3 515.0,495.0 513.5,493.8 511.8,492.5 509.7,491.0 507.5,489.5 506.0,488.6 504.5,487.7 502.2,486.5 500.0,485.4 498.5,484.7 495.7,483.5 494.0,482.8 491.7,482.0 489.5,481.3 487.0,480.5 485.0,479.9 482.0,479.2 480.5,478.8 477.5,478.2 474.5,477.6 473.0,477.3 470.0,476.8 467.0,476.3 464.3,476.0 462.5,475.8 459.5,475.5 456.5,475.2 453.5,475.1 450.5,475.0 447.5,475.0 444.5,475.1 441.5,475.3 438.5,475.6 435.9,476.0 434.0,476.4 431.0,477.2 429.5,477.6 426.5,478.7 425.0,479.4 422.7,480.5 420.5,481.8 419.0,482.8 417.5,483.9 416.0,485.0 414.3,486.5 412.8,488.0 411.4,489.5 410.0,491.1 408.5,493.0 407.0,495.2 405.8,497.0 404.9,498.5 404.0,500.2 402.6,503.0 401.9,504.5 401.0,506.4 399.9,509.0 399.3,510.5 398.2,513.5 397.6,515.0 396.5,518.0 396.0,519.5 395.0,522.1 394.3,524.0 393.5,526.1 392.6,528.5 391.9,530.0 390.6,533.0 389.9,534.5 389.0,536.4 387.7,539.0 386.8,540.5 386.0,542.0 384.5,544.3 383.0,546.5 381.9,548.0 380.7,549.5 379.5,551.0 378.1,552.5 376.7,554.0 375.1,555.5 373.5,557.0 371.6,558.5 369.6,560.0 368.0,561.1 366.5,562.0 364.8,563.0 362.0,564.5 360.5,565.2 358.6,566.0 356.0,567.0 354.3,567.5 351.5,568.3 348.5,568.9 347.0,569.2 344.0,569.6 341.0,569.8 338.0,569.8 335.0,569.7 332.0,569.4 329.1,569.0 327.5,568.7 324.5,568.0 322.9,567.5 320.0,566.5 318.5,565.9 315.5,564.6 314.0,563.8 312.5,563.0 310.1,561.5 308.0,560.1 306.5,558.9 305.0,557.7 303.5,556.4 302.0,554.9 300.5,553.3 299.0,551.6 297.5,549.6 296.4,548.0 295.4,546.5 294.5,545.0 293.0,542.1 292.3,540.5 291.5,538.7 290.5,536.0 290.0,534.4 289.2,531.5 288.6,528.5 288.3,527.0 287.9,524.0 287.6,521.0 287.4,518.0 287.4,515.0 287.4,512.0 287.5,509.0 287.7,506.0 288.0,503.0 288.3,500.0 288.5,498.5 288.9,495.5 289.3,492.5 289.7,489.5 290.0,487.8 290.4,485.0 290.9,482.0 291.4,479.0 291.6,477.5 292.1,474.5 292.5,471.5 293.0,468.6 293.2,467.0 293.7,464.0 294.2,461.0 294.5,458.9 294.9,456.5 295.3,453.5 295.8,450.5 296.0,449.0 296.5,446.0 297.0,443.0 297.4,440.0 297.6,438.5 298.1,435.5 298.5,432.5 298.9,429.5 299.1,428.0 299.4,425.0 299.7,422.0 300.0,419.0 300.3,416.0 300.4,413.0 300.5,411.5 300.6,408.5 300.7,405.5 300.7,402.5 300.7,399.5 300.7,396.5 300.6,393.5 300.5,390.5 300.5,389.0 300.4,386.0 300.3,383.0 300.2,380.0 300.1,377.0 300.0,374.0 299.9,371.0 299.9,368.0 299.9,365.0 300.0,362.0 300.1,359.0 300.2,356.0 300.4,353.0 300.5,350.6 300.6,348.5 300.9,345.5 301.1,342.5 301.4,339.5 301.7,336.5 302.0,333.5 302.1,332.0 302.4,329.0 302.6,326.0 302.8,323.0 303.0,320.0 303.1,317.0 303.1,314.0 303.0,311.0 302.8,308.0 302.4,305.0 302.0,302.1 301.7,300.5 301.1,297.5 300.5,295.0 300.0,293.0 299.1,290.0 298.6,288.5 297.7,285.5 297.2,284.0 296.1,281.0 295.6,279.5 294.6,276.5 294.1,275.0 293.1,272.0 292.6,270.5 291.6,267.5 291.2,266.0 290.4,263.0 290.0,261.4 289.4,258.5 288.8,255.5 288.5,253.4 288.2,251.0 288.0,248.0 287.9,245.0 287.9,242.0 288.1,239.0 288.5,236.1 288.8,234.5 289.4,231.5 290.0,229.4 290.8,227.0 291.5,225.1 292.6,222.5 293.4,221.0 294.5,219.0 296.0,216.5 297.1,215.0 298.2,213.5 299.4,212.0 300.8,210.5 302.2,209.0 303.8,207.5 305.5,206.0 307.4,204.5 309.5,203.0 311.0,202.0 312.5,201.1 314.5,200.0 317.0,198.8 318.5,198.1 321.4,197.0 323.0,196.4 326.0,195.5 327.5,195.2 330.5,194.5 333.5,194.1 335.0,193.9Z" fill="#a9a8aa"/>
<path d="M332.0,204.2 335.0,203.7 338.0,203.4 341.0,203.3 344.0,203.3 347.0,203.6 350.0,204.0 352.4,204.5 354.5,205.0 357.5,205.9 359.0,206.5 361.5,207.5 363.5,208.5 365.0,209.3 367.1,210.5 369.4,212.0 371.0,213.1 372.5,214.3 374.0,215.6 375.5,217.0 377.0,218.5 378.5,220.2 380.0,222.0 381.5,224.0 382.5,225.5 383.5,227.0 384.5,228.8 385.9,231.5 386.6,233.0 387.5,235.2 388.3,237.5 389.0,239.5 389.7,242.0 390.5,245.0 390.8,246.5 391.3,249.5 391.8,252.5 392.0,254.2 392.3,257.0 392.6,260.0 392.8,263.0 393.1,266.0 393.3,269.0 393.5,270.9 393.8,273.5 394.2,276.5 394.7,279.5 395.0,281.0 395.7,284.0 396.5,286.6 397.2,288.5 398.0,290.5 399.2,293.0 399.9,294.5 401.0,296.3 402.5,298.7 403.8,300.5 404.9,302.0 406.2,303.5 407.5,305.0 408.9,306.5 410.4,308.0 412.0,309.5 413.7,311.0 415.5,312.5 417.4,314.0 419.0,315.2 420.5,316.2 422.0,317.2 424.2,318.5 426.5,319.8 428.0,320.5 430.0,321.5 432.5,322.6 434.0,323.2 437.0,324.3 438.5,324.8 441.5,325.7 443.0,326.1 446.0,326.8 449.0,327.4 450.5,327.6 453.5,328.1 456.5,328.5 459.5,328.8 462.0,329.0 464.0,329.1 467.0,329.3 470.0,329.3 473.0,329.3 476.0,329.3 479.0,329.2 481.6,329.0 483.5,328.8 486.5,328.5 489.5,328.1 492.5,327.7 494.0,327.4 497.0,326.8 500.0,326.0 501.5,325.6 504.5,324.7 506.0,324.3 509.0,323.2 510.5,322.6 513.2,321.5 515.0,320.7 516.5,320.0 519.5,318.5 521.0,317.8 522.5,317.0 525.2,315.5 527.0,314.5 528.5,313.6 530.4,312.5 533.0,311.0 534.5,310.1 536.0,309.2 537.9,308.0 540.4,306.5 542.0,305.5 543.5,304.6 545.3,303.5 547.8,302.0 549.5,300.9 551.0,300.0 552.7,299.0 555.2,297.5 557.0,296.4 558.5,295.5 560.2,294.5 562.7,293.0 564.5,291.9 566.0,290.9 567.5,290.0 569.8,288.5 572.0,287.1 573.5,286.0 575.0,284.9 576.5,283.7 578.0,282.4 579.5,280.9 581.0,278.9 582.1,276.5 582.3,273.5 581.6,270.5 581.0,268.8 579.8,266.0 579.1,264.5 578.0,262.2 577.0,260.0 576.3,258.5 575.0,255.5 574.4,254.0 573.5,251.4 572.9,249.5 572.2,246.5 571.9,245.0 571.4,242.0 571.3,239.0 571.4,236.0 571.8,233.0 572.1,231.5 573.1,228.5 573.7,227.0 575.0,224.6 576.4,222.5 577.6,221.0 579.0,219.5 580.7,218.0 582.5,216.6 584.0,215.7 585.5,214.8 588.5,213.5 590.0,213.0 593.0,212.2 594.5,212.0 597.5,211.7 600.5,211.7 603.0,212.0 605.0,212.4 608.0,213.2 609.5,213.7 612.2,215.0 614.0,216.0 615.5,217.1 617.0,218.3 618.5,219.7 620.0,221.4 621.5,223.4 622.7,225.5 623.4,227.0 624.5,230.0 624.8,231.5 625.2,234.5 625.3,237.5 625.0,240.5 624.5,243.1 624.0,245.0 623.0,247.8 622.3,249.5 621.5,251.1 620.0,253.8 618.9,255.5 617.9,257.0 616.9,258.5 615.5,260.3 614.0,262.1 612.5,263.9 611.0,265.6 609.5,267.2 608.0,268.9 606.5,270.5 605.2,272.0 604.0,273.5 603.0,275.0 602.0,277.1 601.4,279.5 601.7,282.5 602.2,284.0 603.5,286.9 604.4,288.5 605.3,290.0 606.5,291.9 608.0,294.2 609.2,296.0 610.2,297.5 611.2,299.0 612.5,300.9 614.0,303.2 615.1,305.0 616.0,306.5 617.0,308.2 618.5,310.9 619.4,312.5 620.1,314.0 621.5,317.0 622.2,318.5 623.0,320.6 623.9,323.0 624.5,324.9 625.3,327.5 626.0,330.4 626.4,332.0 626.9,335.0 627.4,338.0 627.5,339.5 627.8,342.5 628.0,345.5 628.1,348.5 628.2,351.5 628.1,354.5 628.1,357.5 628.0,360.5 627.9,363.5 627.8,366.5 627.7,369.5 627.6,372.5 627.6,375.5 627.6,378.5 627.6,381.5 627.7,384.5 627.8,387.5 627.9,390.5 628.1,393.5 628.3,396.5 628.5,399.5 628.7,402.5 629.0,405.5 629.1,407.0 629.3,410.0 629.4,413.0 629.6,416.0 629.7,419.0 629.8,422.0 629.9,425.0 629.9,428.0 629.9,431.0 629.9,434.0 629.8,437.0 629.7,440.0 629.5,443.0 629.4,446.0 629.2,449.0 629.1,452.0 629.0,453.5 628.9,456.5 628.7,459.5 628.6,462.5 628.6,465.5 628.5,468.5 628.5,471.5 628.6,474.5 628.7,477.5 628.9,480.5 629.0,482.5 629.2,485.0 629.4,488.0 629.7,491.0 630.0,494.0 630.2,497.0 630.5,500.0 630.6,501.5 630.8,504.5 630.9,507.5 630.9,510.5 630.8,513.5 630.6,516.5 630.4,518.0 630.0,521.0 629.4,524.0 629.0,525.5 628.0,528.5 627.4,530.0 626.0,533.0 625.2,534.5 624.3,536.0 623.0,537.9 621.5,539.7 620.0,541.4 618.5,542.8 617.0,544.0 615.5,545.1 613.3,546.5 611.0,547.7 609.5,548.4 606.5,549.5 605.0,549.9 602.0,550.6 599.0,550.9 597.5,551.0 595.0,551.0 593.0,550.9 590.0,550.5 587.0,549.9 585.5,549.4 582.5,548.4 581.0,547.8 578.2,546.5 576.5,545.6 575.0,544.7 573.2,543.5 571.2,542.0 569.4,540.5 567.7,539.0 566.2,537.5 564.7,536.0 563.4,534.5 562.1,533.0 561.0,531.5 559.9,530.0 558.5,528.0 557.0,525.7 555.9,524.0 555.0,522.5 554.0,520.7 552.5,518.0 551.7,516.5 550.9,515.0 549.5,512.3 548.6,510.5 547.8,509.0 546.5,506.6 545.4,504.5 544.5,503.0 543.5,501.2 542.0,498.7 540.9,497.0 539.9,495.5 538.9,494.0 537.5,492.0 536.0,490.1 534.5,488.2 533.0,486.5 531.7,485.0 530.2,483.5 528.7,482.0 527.1,480.5 525.5,479.1 524.0,477.8 522.5,476.6 521.0,475.5 519.5,474.5 517.3,473.0 515.0,471.6 513.5,470.8 511.9,470.0 509.0,468.6 507.5,468.0 505.0,467.0 503.0,466.3 500.6,465.5 498.5,464.9 495.5,464.1 494.0,463.7 491.0,463.1 488.2,462.5 486.5,462.2 483.5,461.7 480.5,461.2 479.0,461.0 476.0,460.6 473.0,460.2 470.0,459.8 467.7,459.5 465.5,459.2 462.5,458.9 459.5,458.5 456.5,458.2 454.5,458.0 452.0,457.8 449.0,457.5 446.0,457.3 443.0,457.1 440.0,457.0 437.0,456.9 434.0,457.0 431.0,457.2 428.0,457.6 425.6,458.0 423.5,458.5 420.5,459.4 419.0,459.9 416.5,461.0 414.5,462.0 413.0,462.9 411.4,464.0 409.4,465.5 407.6,467.0 405.9,468.5 404.5,470.0 403.1,471.5 401.8,473.0 400.7,474.5 399.5,476.1 398.0,478.3 396.7,480.5 395.8,482.0 395.0,483.5 393.5,486.5 392.8,488.0 392.0,490.0 391.0,492.5 390.5,494.0 389.4,497.0 389.0,498.5 388.1,501.5 387.5,503.4 386.8,506.0 386.0,509.0 385.6,510.5 384.8,513.5 384.4,515.0 383.6,518.0 383.0,519.9 382.2,522.5 381.5,524.5 380.6,527.0 380.0,528.5 378.7,531.5 378.0,533.0 377.0,534.9 375.5,537.5 374.6,539.0 373.5,540.5 372.4,542.0 371.0,543.8 369.5,545.5 368.0,547.0 366.5,548.4 365.0,549.7 363.3,551.0 361.1,552.5 359.0,553.8 357.5,554.6 355.6,555.5 353.0,556.5 351.5,557.1 348.5,557.9 345.7,558.5 344.0,558.8 341.0,559.0 338.0,559.1 335.0,558.9 332.0,558.6 330.5,558.3 327.5,557.6 325.7,557.0 323.0,556.0 321.5,555.3 319.0,554.0 317.0,552.8 315.5,551.8 314.0,550.7 312.5,549.5 310.9,548.0 309.5,546.5 308.0,544.8 306.5,542.8 305.0,540.6 304.1,539.0 303.3,537.5 302.0,534.6 301.4,533.0 300.5,530.3 300.0,528.5 299.4,525.5 299.0,523.3 298.7,521.0 298.5,518.0 298.4,515.0 298.4,512.0 298.6,509.0 298.8,506.0 299.0,504.1 299.3,501.5 299.7,498.5 300.2,495.5 300.5,493.4 300.9,491.0 301.4,488.0 302.0,485.0 302.3,483.5 302.8,480.5 303.4,477.5 303.7,476.0 304.2,473.0 304.8,470.0 305.0,468.5 305.6,465.5 306.1,462.5 306.5,460.3 306.9,458.0 307.4,455.0 308.0,452.0 308.2,450.5 308.8,447.5 309.3,444.5 309.6,443.0 310.1,440.0 310.6,437.0 311.0,434.3 311.3,432.5 311.7,429.5 312.1,426.5 312.4,423.5 312.6,422.0 312.9,419.0 313.1,416.0 313.2,413.0 313.3,410.0 313.4,407.0 313.3,404.0 313.3,401.0 313.1,398.0 313.0,395.0 312.8,392.0 312.6,389.0 312.5,387.4 312.3,384.5 312.1,381.5 311.9,378.5 311.8,375.5 311.7,372.5 311.6,369.5 311.5,366.5 311.5,363.5 311.6,360.5 311.7,357.5 311.9,354.5 312.1,351.5 312.3,348.5 312.5,346.6 312.8,344.0 313.1,341.0 313.5,338.0 313.9,335.0 314.1,333.5 314.5,330.5 314.9,327.5 315.3,324.5 315.5,322.4 315.7,320.0 315.9,317.0 316.0,314.0 316.0,311.0 315.9,308.0 315.6,305.0 315.4,303.5 314.9,300.5 314.3,297.5 313.9,296.0 313.0,293.0 312.5,291.5 311.4,288.5 310.8,287.0 309.6,284.0 309.0,282.5 308.0,280.1 307.1,278.0 306.5,276.5 305.3,273.5 304.7,272.0 303.5,269.0 303.0,267.5 302.0,264.7 301.5,263.0 300.6,260.0 300.2,258.5 299.6,255.5 299.1,252.5 298.9,251.0 298.6,248.0 298.5,245.0 298.6,242.0 298.9,239.0 299.1,237.5 299.7,234.5 300.5,231.6 301.1,230.0 302.0,227.7 303.0,225.5 303.8,224.0 305.0,222.1 306.5,220.0 308.0,218.1 309.4,216.5 310.9,215.0 312.5,213.6 314.0,212.4 315.5,211.3 317.0,210.3 319.1,209.0 321.5,207.8 323.0,207.1 325.7,206.0 327.5,205.4 330.5,204.6 332.0,204.2Z" fill="#8f8e90"/>
<path d="M336.5,213.4 339.5,213.1 342.5,213.0 345.5,213.2 348.0,213.5 350.0,213.9 353.0,214.7 354.5,215.2 357.5,216.4 359.0,217.1 360.6,218.0 362.9,219.5 365.0,221.0 366.5,222.2 368.0,223.6 369.5,225.2 371.0,226.9 372.2,228.5 373.3,230.0 374.2,231.5 375.5,233.8 376.6,236.0 377.2,237.5 378.3,240.5 378.7,242.0 379.5,245.0 380.0,247.5 380.3,249.5 380.6,252.5 380.8,255.5 380.9,258.5 380.9,261.5 380.9,264.5 380.7,267.5 380.6,270.5 380.5,273.5 380.4,276.5 380.3,279.5 380.5,282.5 380.7,285.5 381.2,288.5 381.5,290.0 382.4,293.0 383.0,294.6 384.3,297.5 385.1,299.0 386.0,300.5 387.5,302.8 389.0,304.9 390.3,306.5 391.6,308.0 392.9,309.5 394.3,311.0 395.8,312.5 397.4,314.0 399.0,315.5 400.7,317.0 402.5,318.5 404.0,319.7 405.5,320.9 407.0,322.0 408.5,323.1 410.5,324.5 412.8,326.0 414.5,327.0 416.0,327.9 418.2,329.0 420.5,330.2 422.0,330.8 424.8,332.0 426.5,332.6 429.1,333.5 431.0,334.1 434.0,334.9 435.5,335.2 438.5,335.8 441.5,336.3 443.0,336.5 446.0,336.9 449.0,337.2 452.0,337.5 455.0,337.7 458.0,337.8 461.0,337.9 464.0,338.0 467.0,338.0 470.0,338.0 473.0,337.9 476.0,337.8 479.0,337.7 482.0,337.5 485.0,337.2 488.0,336.9 491.0,336.6 492.5,336.4 495.5,335.9 498.5,335.4 500.3,335.0 503.0,334.4 506.0,333.6 507.5,333.2 510.5,332.2 512.0,331.7 515.0,330.6 516.5,330.0 518.7,329.0 521.0,328.0 522.5,327.3 525.1,326.0 527.0,325.0 528.5,324.2 530.7,323.0 533.0,321.7 534.5,320.9 536.1,320.0 538.7,318.5 540.5,317.5 542.0,316.6 544.0,315.5 546.5,314.2 548.0,313.4 549.6,312.5 552.5,311.0 554.0,310.3 555.7,309.5 558.5,308.2 560.0,307.6 562.7,306.5 564.5,305.8 566.9,305.0 569.0,304.4 572.0,303.6 573.5,303.3 576.5,302.7 579.5,302.5 582.5,302.4 585.5,302.7 588.5,303.3 590.0,303.7 593.0,304.8 594.5,305.5 596.3,306.5 598.6,308.0 600.5,309.4 602.0,310.7 603.5,312.1 605.0,313.7 606.5,315.5 607.7,317.0 608.8,318.5 609.7,320.0 611.0,322.1 612.2,324.5 612.9,326.0 614.0,328.5 614.7,330.5 615.5,333.0 616.0,335.0 616.7,338.0 617.0,339.8 617.4,342.5 617.7,345.5 617.9,348.5 618.0,351.5 618.1,354.5 618.0,357.5 618.0,360.5 617.9,363.5 617.8,366.5 617.7,369.5 617.6,372.5 617.6,375.5 617.6,378.5 617.6,381.5 617.6,384.5 617.7,387.5 617.8,390.5 618.0,393.5 618.2,396.5 618.4,399.5 618.5,401.4 618.7,404.0 618.9,407.0 619.0,410.0 619.2,413.0 619.3,416.0 619.4,419.0 619.4,422.0 619.4,425.0 619.4,428.0 619.3,431.0 619.2,434.0 619.0,437.0 618.8,440.0 618.5,442.9 618.4,444.5 618.0,447.5 617.7,450.5 617.4,453.5 617.1,456.5 616.9,458.0 616.6,461.0 616.4,464.0 616.1,467.0 615.9,470.0 615.8,473.0 615.7,476.0 615.7,479.0 615.8,482.0 615.9,485.0 616.1,488.0 616.3,491.0 616.5,494.0 616.7,497.0 616.9,500.0 617.0,502.1 617.1,504.5 617.1,507.5 617.0,509.7 616.8,512.0 616.4,515.0 615.8,518.0 615.4,519.5 614.3,522.5 613.6,524.0 612.5,526.0 611.0,528.2 609.5,529.9 608.0,531.2 606.5,532.3 605.0,533.3 602.3,534.5 600.5,535.1 597.5,535.6 594.5,535.7 591.5,535.4 588.5,534.7 587.0,534.1 584.5,533.0 582.5,531.8 581.0,530.8 579.5,529.7 578.0,528.4 576.5,526.9 575.0,525.2 573.5,523.4 572.0,521.3 570.8,519.5 569.9,518.0 569.0,516.4 567.5,513.6 566.7,512.0 566.0,510.5 564.5,507.5 563.9,506.0 563.0,504.1 561.8,501.5 561.1,500.0 560.0,497.8 558.8,495.5 558.0,494.0 557.0,492.1 555.5,489.5 554.6,488.0 553.6,486.5 552.5,484.9 551.0,482.7 549.5,480.7 548.1,479.0 546.9,477.5 545.6,476.0 544.2,474.5 542.8,473.0 541.4,471.5 539.8,470.0 538.2,468.5 536.5,467.0 534.8,465.5 533.0,464.1 531.5,463.0 530.0,461.9 528.5,460.9 526.3,459.5 524.0,458.2 522.5,457.4 520.7,456.5 518.0,455.3 516.5,454.7 513.5,453.6 512.0,453.1 509.0,452.3 507.5,451.9 504.5,451.2 501.5,450.6 500.0,450.4 497.0,449.9 494.0,449.5 491.0,449.1 489.5,448.9 486.5,448.6 483.5,448.2 480.5,447.9 477.5,447.6 476.0,447.4 473.0,447.1 470.0,446.7 467.0,446.3 465.0,446.0 462.5,445.6 459.5,445.2 456.5,444.7 455.0,444.4 452.0,443.9 449.0,443.3 447.3,443.0 444.5,442.5 441.5,441.9 439.6,441.5 437.0,441.0 434.0,440.5 431.2,440.0 429.5,439.7 426.5,439.4 423.5,439.1 420.5,438.9 417.5,438.9 414.5,439.2 411.5,439.7 410.0,440.1 407.0,441.2 405.5,441.8 403.4,443.0 401.1,444.5 399.5,445.8 398.0,447.2 396.5,448.7 395.0,450.3 393.6,452.0 392.5,453.5 391.4,455.0 390.4,456.5 389.0,458.7 387.7,461.0 386.8,462.5 386.0,464.1 384.5,467.0 383.8,468.5 383.0,470.4 381.9,473.0 381.3,474.5 380.2,477.5 379.7,479.0 378.8,482.0 378.3,483.5 377.5,486.5 377.0,488.7 376.5,491.0 375.9,494.0 375.5,496.1 375.1,498.5 374.6,501.5 374.0,504.5 373.8,506.0 373.2,509.0 372.7,512.0 372.3,513.5 371.6,516.5 371.0,518.8 370.3,521.0 369.5,523.4 368.7,525.5 368.0,527.1 366.6,530.0 365.7,531.5 364.8,533.0 363.5,534.8 362.0,536.7 360.5,538.3 359.0,539.8 357.5,541.0 356.0,542.2 353.9,543.5 351.5,544.8 350.0,545.5 347.1,546.5 345.5,546.9 342.5,547.5 339.5,547.7 336.5,547.6 333.5,547.2 330.6,546.5 329.0,545.9 326.7,545.0 324.5,543.8 323.0,542.9 321.5,541.8 320.0,540.5 318.5,539.0 317.0,537.3 315.5,535.3 314.1,533.0 313.3,531.5 312.5,529.7 311.5,527.0 311.0,525.2 310.4,522.5 309.9,519.5 309.7,516.5 309.6,513.5 309.7,510.5 309.9,507.5 310.3,504.5 310.7,501.5 311.0,499.6 311.5,497.0 312.1,494.0 312.5,492.0 313.1,489.5 313.7,486.5 314.1,485.0 314.8,482.0 315.4,479.0 315.8,477.5 316.5,474.5 317.0,472.1 317.5,470.0 318.1,467.0 318.5,465.3 319.1,462.5 319.7,459.5 320.1,458.0 320.7,455.0 321.3,452.0 321.6,450.5 322.3,447.5 322.9,444.5 323.2,443.0 323.8,440.0 324.4,437.0 324.6,435.5 325.2,432.5 325.7,429.5 326.0,427.0 326.3,425.0 326.6,422.0 326.8,419.0 327.0,416.0 327.0,413.0 327.0,410.0 326.9,407.0 326.7,404.0 326.4,401.0 326.1,398.0 326.0,396.5 325.6,393.5 325.2,390.5 324.8,387.5 324.5,384.8 324.3,383.0 324.0,380.0 323.7,377.0 323.4,374.0 323.2,371.0 323.1,368.0 323.0,365.3 323.0,363.5 323.0,361.6 323.1,359.0 323.2,356.0 323.4,353.0 323.7,350.0 324.1,347.0 324.5,344.0 324.7,342.5 325.3,339.5 325.8,336.5 326.1,335.0 326.7,332.0 327.4,329.0 327.7,327.5 328.3,324.5 328.9,321.5 329.2,320.0 329.7,317.0 330.1,314.0 330.4,311.0 330.4,308.0 330.3,305.0 330.0,302.0 329.4,299.0 329.0,297.5 328.0,294.5 327.5,293.0 326.2,290.0 325.5,288.5 324.5,286.6 323.1,284.0 322.3,282.5 321.5,281.0 320.0,278.3 319.0,276.5 318.2,275.0 317.0,272.7 315.9,270.5 315.2,269.0 314.0,266.5 313.2,264.5 312.5,262.8 311.5,260.0 311.0,258.4 310.2,255.5 309.6,252.5 309.4,251.0 309.1,248.0 309.0,245.0 309.1,242.0 309.5,239.1 309.8,237.5 310.7,234.5 311.2,233.0 312.5,230.1 313.4,228.5 314.4,227.0 315.5,225.4 317.0,223.6 318.5,222.1 320.0,220.7 321.6,219.5 323.8,218.0 326.0,216.8 327.5,216.0 330.1,215.0 332.0,214.4 335.0,213.7 336.5,213.4Z" fill="#767576"/>
<path d="M336.5,225.1 339.5,224.5 342.5,224.3 345.5,224.5 348.5,225.1 350.0,225.5 353.0,226.8 354.5,227.6 356.0,228.5 358.0,230.0 359.7,231.5 361.1,233.0 362.3,234.5 363.5,236.2 365.0,238.9 365.7,240.5 366.5,242.6 367.2,245.0 367.8,248.0 368.0,250.0 368.1,252.5 368.1,255.5 367.9,257.0 367.5,260.0 366.9,263.0 366.5,264.7 365.6,267.5 365.0,269.2 363.8,272.0 363.1,273.5 362.0,275.5 360.5,277.8 359.2,279.5 357.8,281.0 356.0,282.4 354.5,283.2 351.5,283.9 348.5,283.5 345.8,282.5 344.0,281.6 342.5,280.7 340.8,279.5 338.8,278.0 337.0,276.5 335.4,275.0 333.9,273.5 332.5,272.0 331.2,270.5 330.0,269.0 328.8,267.5 327.5,265.6 326.0,263.2 325.1,261.5 324.3,260.0 323.0,257.0 322.5,255.5 321.6,252.5 321.3,251.0 321.0,248.0 320.9,245.0 321.2,242.0 321.5,240.5 322.5,237.5 323.1,236.0 324.5,233.6 326.0,231.6 327.5,230.1 329.0,228.8 330.5,227.7 332.0,226.9 335.0,225.6 336.5,225.1ZM356.0,312.4 359.0,311.3 362.0,311.2 365.0,311.9 366.7,312.5 369.5,313.7 371.0,314.5 372.8,315.5 375.3,317.0 377.0,318.1 378.5,319.1 380.0,320.1 382.1,321.5 384.2,323.0 386.0,324.3 387.5,325.3 389.0,326.4 390.5,327.5 392.6,329.0 394.7,330.5 396.5,331.8 398.0,332.8 399.5,333.8 401.3,335.0 403.6,336.5 405.5,337.6 407.0,338.5 408.9,339.5 411.5,340.8 413.0,341.5 415.5,342.5 417.5,343.2 420.0,344.0 422.0,344.5 425.0,345.2 426.6,345.5 429.5,345.9 432.5,346.3 435.5,346.5 438.5,346.7 441.5,346.7 444.5,346.8 447.5,346.8 450.5,346.7 453.5,346.7 456.5,346.6 459.5,346.5 462.5,346.4 465.5,346.3 468.5,346.2 471.5,346.1 474.5,345.9 477.5,345.8 480.5,345.6 482.5,345.5 485.0,345.3 488.0,345.1 491.0,344.8 494.0,344.5 497.0,344.1 498.5,343.9 501.5,343.4 504.5,342.8 506.0,342.5 509.0,341.8 512.0,341.0 513.5,340.5 516.5,339.6 518.0,339.0 520.7,338.0 522.5,337.3 524.3,336.5 527.0,335.3 528.5,334.6 530.6,333.5 533.0,332.3 534.5,331.5 536.3,330.5 539.0,329.1 540.5,328.2 542.0,327.4 544.7,326.0 546.5,325.0 548.0,324.3 550.5,323.0 552.5,322.1 554.0,321.4 557.0,320.1 558.5,319.5 561.2,318.5 563.0,317.9 566.0,317.1 567.5,316.7 570.5,316.1 573.5,315.8 576.5,315.6 579.5,315.8 582.5,316.2 585.5,316.9 587.0,317.4 589.5,318.5 591.5,319.6 593.0,320.5 594.5,321.7 596.1,323.0 597.6,324.5 599.0,326.1 600.5,328.1 602.0,330.5 602.8,332.0 603.6,333.5 604.8,336.5 605.3,338.0 606.1,341.0 606.5,342.9 607.0,345.5 607.3,348.5 607.6,351.5 607.7,354.5 607.7,357.5 607.7,360.5 607.7,363.5 607.6,366.5 607.5,369.5 607.4,372.5 607.4,375.5 607.3,378.5 607.3,381.5 607.3,384.5 607.4,387.5 607.5,390.5 607.6,393.5 607.7,396.5 607.9,399.5 608.0,401.8 608.1,404.0 608.2,407.0 608.4,410.0 608.4,413.0 608.5,416.0 608.5,419.0 608.4,422.0 608.3,425.0 608.1,428.0 608.0,429.5 607.7,432.5 607.3,435.5 606.9,438.5 606.5,440.7 606.1,443.0 605.5,446.0 605.0,448.1 604.4,450.5 603.7,453.5 603.3,455.0 602.4,458.0 602.0,459.5 601.1,462.5 600.5,464.5 599.7,467.0 599.0,469.2 598.2,471.5 597.5,473.8 596.7,476.0 596.0,478.1 595.1,480.5 594.5,482.1 593.2,485.0 592.4,486.5 591.4,488.0 589.5,489.5 587.0,489.9 585.5,489.4 583.2,488.0 581.3,486.5 579.5,485.0 578.0,483.6 576.5,482.2 575.0,480.7 573.5,479.3 572.0,477.8 570.5,476.3 569.0,474.9 567.5,473.4 566.0,472.0 564.5,470.6 563.0,469.2 561.5,467.8 560.0,466.4 558.5,465.0 557.0,463.7 555.5,462.3 554.0,461.0 552.3,459.5 550.5,458.0 548.7,456.5 546.9,455.0 545.0,453.6 543.5,452.4 542.0,451.4 540.5,450.3 538.5,449.0 536.1,447.5 534.5,446.6 533.0,445.8 530.3,444.5 528.5,443.7 526.7,443.0 524.0,442.0 522.4,441.5 519.5,440.7 516.5,440.0 515.0,439.7 512.0,439.2 509.0,438.8 506.0,438.5 504.5,438.4 501.5,438.1 498.5,437.9 495.5,437.8 492.5,437.6 489.5,437.4 486.5,437.2 483.5,437.0 482.0,436.9 479.0,436.6 476.0,436.3 473.0,436.0 470.0,435.6 468.5,435.4 465.5,434.9 462.5,434.3 461.0,434.0 458.0,433.3 455.0,432.6 453.5,432.2 450.5,431.3 449.0,430.9 446.0,429.9 444.5,429.4 441.5,428.3 440.0,427.8 437.0,426.6 435.5,426.0 433.1,425.0 431.0,424.1 429.5,423.4 426.5,422.1 425.0,421.4 422.9,420.5 420.5,419.5 419.0,418.8 416.0,417.6 414.5,417.0 411.7,416.0 410.0,415.5 407.0,414.7 405.5,414.4 402.5,413.9 399.5,413.8 396.5,413.9 393.5,414.4 392.0,414.8 389.0,415.7 387.5,416.3 385.1,417.5 383.0,418.8 381.5,419.8 380.0,420.9 378.5,422.1 377.0,423.5 375.5,425.1 374.0,426.8 372.5,428.8 371.1,431.0 370.2,432.5 369.5,434.0 368.1,437.0 367.5,438.5 366.5,441.4 366.0,443.0 365.1,446.0 364.7,447.5 363.9,450.5 363.5,452.2 362.8,455.0 362.1,458.0 361.8,459.5 361.2,462.5 360.6,465.5 360.4,467.0 359.9,470.0 359.5,473.0 359.2,476.0 359.0,479.0 358.9,480.5 358.8,483.5 358.8,486.5 358.7,489.5 358.7,492.5 358.8,495.5 358.7,498.5 358.7,501.5 358.5,504.5 358.3,507.5 357.9,510.5 357.5,512.7 357.0,515.0 356.1,518.0 355.5,519.5 354.5,521.6 353.1,524.0 352.0,525.5 350.7,527.0 349.1,528.5 347.0,530.0 345.5,530.8 343.6,531.5 341.0,532.1 338.0,532.1 335.0,531.5 333.5,530.9 331.8,530.0 329.9,528.5 328.4,527.0 327.3,525.5 326.0,523.2 325.1,521.0 324.5,518.9 324.1,516.5 323.8,513.5 323.9,510.5 324.1,507.5 324.5,505.2 324.9,503.0 325.7,500.0 326.1,498.5 327.0,495.5 327.5,493.9 328.5,491.0 329.0,489.5 330.2,486.5 330.8,485.0 331.9,482.0 332.5,480.5 333.5,478.0 334.3,476.0 335.0,474.1 336.0,471.5 336.5,470.0 337.6,467.0 338.1,465.5 339.2,462.5 339.7,461.0 340.7,458.0 341.2,456.5 342.2,453.5 342.7,452.0 343.7,449.0 344.2,447.5 345.2,444.5 345.6,443.0 346.6,440.0 347.0,438.3 347.7,435.5 348.3,432.5 348.6,431.0 348.9,428.0 349.1,425.0 349.0,422.0 348.7,419.0 348.5,417.5 347.9,414.5 347.2,411.5 346.8,410.0 346.0,407.0 345.5,405.5 344.6,402.5 344.0,400.8 343.1,398.0 342.5,396.2 341.6,393.5 341.0,391.5 340.3,389.0 339.5,386.4 339.0,384.5 338.3,381.5 337.9,380.0 337.3,377.0 336.8,374.0 336.5,372.0 336.2,369.5 336.0,366.5 335.8,363.5 335.8,360.5 335.9,357.5 336.2,354.5 336.5,351.6 336.7,350.0 337.3,347.0 338.0,344.0 338.4,342.5 339.2,339.5 339.7,338.0 340.8,335.0 341.4,333.5 342.5,330.8 343.3,329.0 344.1,327.5 345.5,324.8 346.5,323.0 347.5,321.5 348.5,319.9 350.0,317.9 351.5,316.1 353.0,314.5 354.5,313.3 356.0,312.4Z" fill="#5c5b5c"/>
<path d="M570.5,328.9 573.5,328.9 575.0,329.0 578.0,329.5 581.0,330.4 582.5,331.1 584.2,332.0 586.3,333.5 588.0,335.0 589.4,336.5 590.5,338.0 591.5,339.5 593.0,342.4 593.6,344.0 594.5,346.8 594.9,348.5 595.5,351.5 595.8,354.5 596.0,356.8 596.1,359.0 596.2,362.0 596.1,365.0 596.1,368.0 596.0,371.0 596.0,372.5 595.9,375.5 595.8,378.5 595.7,381.5 595.7,384.5 595.6,387.5 595.6,390.5 595.6,393.5 595.7,396.5 595.7,399.5 595.7,402.5 595.7,405.5 595.7,408.5 595.6,411.5 595.4,414.5 595.2,417.5 594.8,420.5 594.5,422.8 594.1,425.0 593.4,428.0 593.0,429.6 592.0,432.5 591.5,434.0 590.1,437.0 589.3,438.5 588.4,440.0 587.0,441.9 585.5,443.5 584.0,444.8 582.1,446.0 579.5,447.0 576.7,447.5 575.0,447.5 573.5,447.4 570.5,446.7 568.2,446.0 566.0,445.1 564.5,444.4 561.7,443.0 560.0,442.1 558.5,441.2 556.3,440.0 554.0,438.6 552.5,437.8 551.0,436.9 548.4,435.5 546.5,434.5 545.0,433.7 542.4,432.5 540.5,431.7 538.8,431.0 536.0,430.0 534.4,429.5 531.5,428.7 528.5,428.1 527.0,427.8 524.0,427.3 521.0,427.0 518.0,426.8 515.0,426.7 512.0,426.6 509.0,426.6 506.0,426.7 503.0,426.7 500.0,426.8 497.0,426.8 494.0,426.9 491.0,426.9 488.0,426.8 485.0,426.7 482.0,426.6 480.5,426.5 477.5,426.2 474.5,425.9 471.5,425.5 468.9,425.0 467.0,424.6 464.0,423.9 462.3,423.5 459.5,422.7 457.3,422.0 455.0,421.2 453.2,420.5 450.5,419.3 449.0,418.7 446.6,417.5 444.5,416.4 443.0,415.5 441.3,414.5 438.9,413.0 437.0,411.7 435.5,410.6 434.0,409.4 432.5,408.2 431.0,407.0 429.3,405.5 427.7,404.0 426.1,402.5 424.6,401.0 423.1,399.5 421.7,398.0 420.3,396.5 419.0,395.0 417.5,393.3 416.0,391.6 414.5,389.9 413.0,388.3 411.5,386.6 410.0,385.1 408.5,383.6 407.0,382.3 405.5,381.2 403.5,380.0 401.0,379.0 398.2,378.5 396.5,378.4 395.0,378.5 392.0,378.8 389.0,379.3 386.0,379.9 384.5,380.2 381.5,380.7 378.5,381.1 375.5,381.2 372.5,381.1 369.5,380.6 367.6,380.0 365.0,378.8 363.5,377.8 362.0,376.6 360.5,375.1 359.0,373.1 357.8,371.0 357.1,369.5 356.1,366.5 355.8,365.0 355.4,362.0 355.4,359.0 355.7,356.0 356.1,354.5 357.1,351.5 357.9,350.0 359.0,348.2 360.5,346.4 362.0,345.1 363.8,344.0 366.5,343.0 369.5,342.7 372.5,342.9 375.5,343.7 377.0,344.3 379.6,345.5 381.5,346.6 383.0,347.5 384.5,348.5 386.6,350.0 388.6,351.5 390.4,353.0 392.0,354.3 393.5,355.6 395.0,356.9 396.5,358.2 398.0,359.4 399.5,360.5 401.8,362.0 404.0,363.2 405.5,363.7 408.5,364.3 411.5,364.3 414.5,364.0 417.5,363.5 419.0,363.2 422.0,362.6 424.4,362.0 426.5,361.5 429.5,360.8 431.0,360.5 434.0,359.8 437.0,359.2 438.5,358.8 441.5,358.3 444.5,357.7 446.0,357.4 449.0,356.9 452.0,356.5 455.0,356.1 456.5,355.9 459.5,355.5 462.5,355.2 465.5,354.9 468.5,354.6 470.0,354.5 473.0,354.3 476.0,354.1 479.0,353.9 482.0,353.7 485.0,353.5 488.0,353.3 491.0,353.1 492.9,353.0 495.5,352.8 498.5,352.5 501.5,352.2 504.5,351.8 506.9,351.5 509.0,351.2 512.0,350.6 514.7,350.0 516.5,349.6 519.5,348.7 521.0,348.3 524.0,347.3 525.5,346.8 528.5,345.6 530.0,345.0 532.1,344.0 534.5,342.9 536.0,342.2 538.4,341.0 540.5,339.9 542.0,339.2 544.3,338.0 546.5,336.9 548.0,336.1 550.3,335.0 552.5,334.0 554.0,333.3 557.0,332.1 558.5,331.6 561.5,330.6 563.0,330.2 566.0,329.5 569.0,329.0 570.5,328.9Z" fill="#474546"/>
<path d="M557.0,348.4 560.0,347.6 563.0,347.1 566.0,347.0 569.0,347.4 572.0,348.5 573.5,349.5 575.0,350.7 576.5,352.6 577.6,354.5 578.3,356.0 579.2,359.0 579.6,360.5 580.0,363.5 580.2,366.5 580.3,369.5 580.3,372.5 580.1,375.5 580.0,378.5 579.7,381.5 579.5,384.1 579.3,386.0 578.9,389.0 578.5,392.0 578.1,395.0 577.8,396.5 577.1,399.5 576.5,401.6 575.7,404.0 575.0,405.6 573.5,408.3 572.2,410.0 570.6,411.5 569.0,412.6 567.5,413.3 564.5,414.1 561.5,414.3 558.5,414.2 555.5,413.9 552.5,413.4 549.8,413.0 548.0,412.7 545.0,412.3 542.0,411.9 539.0,411.6 536.6,411.5 534.5,411.4 531.5,411.4 529.6,411.5 527.0,411.6 524.0,411.9 521.0,412.2 518.0,412.6 515.3,413.0 513.5,413.3 510.5,413.7 507.5,414.2 505.3,414.5 503.0,414.8 500.0,415.2 497.0,415.5 494.0,415.8 491.0,416.0 489.5,416.1 486.5,416.1 483.5,416.1 482.0,416.0 479.0,415.8 476.0,415.4 473.0,415.0 470.8,414.5 468.5,413.9 465.5,413.1 464.0,412.6 461.3,411.5 459.5,410.7 458.0,410.0 455.3,408.5 453.5,407.4 452.0,406.4 450.5,405.2 449.0,404.0 447.3,402.5 445.9,401.0 444.5,399.4 443.0,397.5 441.5,395.1 440.6,393.5 439.9,392.0 439.0,389.0 438.5,386.2 438.4,384.5 438.6,383.0 439.3,380.0 440.0,378.4 441.5,376.1 443.0,374.4 444.5,373.1 446.0,371.9 447.5,370.9 450.1,369.5 452.0,368.6 453.5,368.0 456.5,366.9 458.0,366.5 461.0,365.6 463.8,365.0 465.5,364.7 468.5,364.1 471.5,363.7 473.2,363.5 476.0,363.2 479.0,363.0 482.0,362.8 485.0,362.6 488.0,362.5 491.0,362.4 494.0,362.3 497.0,362.3 500.0,362.2 503.0,362.1 505.8,362.0 507.5,361.9 510.5,361.8 513.5,361.5 516.5,361.2 519.5,360.8 521.5,360.5 524.0,360.0 527.0,359.4 528.5,359.0 531.5,358.1 533.4,357.5 536.0,356.6 537.6,356.0 540.5,354.9 542.0,354.3 544.9,353.0 546.5,352.3 548.5,351.5 551.0,350.5 552.5,349.9 555.5,348.8 557.0,348.4Z" fill="#2e2b2a"/>
<path d="M479.0,375.4 482.0,375.2 485.0,375.0 488.0,375.0 491.0,375.2 494.0,375.5 495.5,375.7 498.5,376.2 501.5,376.8 503.0,377.2 506.0,378.1 507.5,378.7 510.3,380.0 512.0,381.1 513.5,382.4 515.0,384.5 515.4,386.0 515.0,388.3 513.9,390.5 512.6,392.0 511.0,393.5 509.0,395.0 507.5,396.0 506.0,396.9 503.8,398.0 501.5,399.0 500.0,399.6 497.0,400.6 495.5,401.0 492.5,401.7 489.5,402.2 486.5,402.5 485.0,402.5 483.5,402.5 480.5,402.3 477.5,401.9 474.5,401.1 473.0,400.6 470.3,399.5 468.5,398.5 467.0,397.5 465.5,396.3 464.0,394.7 462.5,392.5 461.7,390.5 461.3,387.5 462.1,384.5 462.9,383.0 464.2,381.5 465.9,380.0 468.4,378.5 470.0,377.8 472.0,377.0 474.5,376.3 477.5,375.7 479.0,375.4Z" fill="#211e1b"/>
<path d="M468.9,157.5V160.8" stroke="#000" stroke-width="4.3"/>
<path d="M468.9,169.2V599" stroke="#000" stroke-width="4.3" stroke-dasharray="9 10.1"/>
<g fill="#e3211c">
<path d="M336.1,225.5h4.5v3.0h3.0v4.5h-3.0v3.0h-4.5v-3.0h-3.0v-4.5h3.0z"/>
<path d="M336.1,250.7h4.5v3.0h3.0v4.5h-3.0v3.0h-4.5v-3.0h-3.0v-4.5h3.0z"/>
<path d="M336.1,254.7h4.5v3.0h3.0v4.5h-3.0v3.0h-4.5v-3.0h-3.0v-4.5h3.0z"/>
<path d="M336.1,265.7h4.5v3.0h3.0v4.5h-3.0v3.0h-4.5v-3.0h-3.0v-4.5h3.0z"/>
<path d="M336.1,278.4h4.5v3.0h3.0v4.5h-3.0v3.0h-4.5v-3.0h-3.0v-4.5h3.0z"/>
<path d="M336.1,314.8h4.5v3.0h3.0v4.5h-3.0v3.0h-4.5v-3.0h-3.0v-4.5h3.0z"/>
<path d="M336.1,336.3h4.5v3.0h3.0v4.5h-3.0v3.0h-4.5v-3.0h-3.0v-4.5h3.0z"/>
<path d="M336.1,345.6h4.5v3.0h3.0v4.5h-3.0v3.0h-4.5v-3.0h-3.0v-4.5h3.0z"/>
<path d="M336.1,365.6h4.5v3.0h3.0v4.5h-3.0v3.0h-4.5v-3.0h-3.0v-4.5h3.0z"/>
<path d="M336.1,377.6h4.5v3.0h3.0v4.5h-3.0v3.0h-4.5v-3.0h-3.0v-4.5h3.0z"/>
<path d="M336.1,399.0h4.5v3.0h3.0v4.5h-3.0v3.0h-4.5v-3.0h-3.0v-4.5h3.0z"/>
<path d="M336.1,414.5h4.5v3.0h3.0v4.5h-3.0v3.0h-4.5v-3.0h-3.0v-4.5h3.0z"/>
<path d="M336.1,441.9h4.5v3.0h3.0v4.5h-3.0v3.0h-4.5v-3.0h-3.0v-4.5h3.0z"/>
<path d="M336.1,447.7h4.5v3.0h3.0v4.5h-3.0v3.0h-4.5v-3.0h-3.0v-4.5h3.0z"/>
<path d="M336.1,451.7h4.5v3.0h3.0v4.5h-3.0v3.0h-4.5v-3.0h-3.0v-4.5h3.0z"/>
<path d="M336.1,461.5h4.5v3.0h3.0v4.5h-3.0v3.0h-4.5v-3.0h-3.0v-4.5h3.0z"/>
<path d="M336.1,472.2h4.5v3.0h3.0v4.5h-3.0v3.0h-4.5v-3.0h-3.0v-4.5h3.0z"/>
<path d="M336.1,478.2h4.5v3.0h3.0v4.5h-3.0v3.0h-4.5v-3.0h-3.0v-4.5h3.0z"/>
<path d="M336.1,488.9h4.5v3.0h3.0v4.5h-3.0v3.0h-4.5v-3.0h-3.0v-4.5h3.0z"/>
<path d="M336.1,510.7h4.5v3.0h3.0v4.5h-3.0v3.0h-4.5v-3.0h-3.0v-4.5h3.0z"/>
<path d="M336.1,514.7h4.5v3.0h3.0v4.5h-3.0v3.0h-4.5v-3.0h-3.0v-4.5h3.0z"/>
<path d="M336.1,530.1h4.5v3.0h3.0v4.5h-3.0v3.0h-4.5v-3.0h-3.0v-4.5h3.0z"/>
<path d="M347.4,233.6h4.5v3.0h3.0v4.5h-3.0v3.0h-4.5v-3.0h-3.0v-4.5h3.0z"/>
<path d="M360.2,235.7h4.5v3.0h3.0v4.5h-3.0v3.0h-4.5v-3.0h-3.0v-4.5h3.0z"/>
<path d="M378.9,261.7h4.5v3.0h3.0v4.5h-3.0v3.0h-4.5v-3.0h-3.0v-4.5h3.0z"/>
<path d="M382.6,291.5h4.5v3.0h3.0v4.5h-3.0v3.0h-4.5v-3.0h-3.0v-4.5h3.0z"/>
<path d="M356.9,314.8h4.5v3.0h3.0v4.5h-3.0v3.0h-4.5v-3.0h-3.0v-4.5h3.0z"/>
<path d="M368.4,315.8h4.5v3.0h3.0v4.5h-3.0v3.0h-4.5v-3.0h-3.0v-4.5h3.0z"/>
<path d="M370.8,330.8h4.5v3.0h3.0v4.5h-3.0v3.0h-4.5v-3.0h-3.0v-4.5h3.0z"/>
<path d="M384.4,330.1h4.5v3.0h3.0v4.5h-3.0v3.0h-4.5v-3.0h-3.0v-4.5h3.0z"/>
<path d="M427.4,330.1h4.5v3.0h3.0v4.5h-3.0v3.0h-4.5v-3.0h-3.0v-4.5h3.0z"/>
<path d="M372.9,355.7h4.5v3.0h3.0v4.5h-3.0v3.0h-4.5v-3.0h-3.0v-4.5h3.0z"/>
<path d="M392.6,357.1h4.5v3.0h3.0v4.5h-3.0v3.0h-4.5v-3.0h-3.0v-4.5h3.0z"/>
<path d="M447.9,353.0h4.5v3.0h3.0v4.5h-3.0v3.0h-4.5v-3.0h-3.0v-4.5h3.0z"/>
<path d="M420.8,363.4h4.5v3.0h3.0v4.5h-3.0v3.0h-4.5v-3.0h-3.0v-4.5h3.0z"/>
<path d="M352.1,360.5h4.5v3.0h3.0v4.5h-3.0v3.0h-4.5v-3.0h-3.0v-4.5h3.0z"/>
<path d="M359.8,360.5h4.5v3.0h3.0v4.5h-3.0v3.0h-4.5v-3.0h-3.0v-4.5h3.0z"/>
<path d="M356.4,367.7h4.5v3.0h3.0v4.5h-3.0v3.0h-4.5v-3.0h-3.0v-4.5h3.0z"/>
<path d="M464.4,370.1h4.5v3.0h3.0v4.5h-3.0v3.0h-4.5v-3.0h-3.0v-4.5h3.0z"/>
<path d="M447.8,386.4h4.5v3.0h3.0v4.5h-3.0v3.0h-4.5v-3.0h-3.0v-4.5h3.0z"/>
<path d="M462.8,386.4h4.5v3.0h3.0v4.5h-3.0v3.0h-4.5v-3.0h-3.0v-4.5h3.0z"/>
<path d="M471.1,380.4h4.5v3.0h3.0v4.5h-3.0v3.0h-4.5v-3.0h-3.0v-4.5h3.0z"/>
<path d="M473.4,388.7h4.5v3.0h3.0v4.5h-3.0v3.0h-4.5v-3.0h-3.0v-4.5h3.0z"/>
<path d="M365.2,389.5h4.5v3.0h3.0v4.5h-3.0v3.0h-4.5v-3.0h-3.0v-4.5h3.0z"/>
<path d="M446.4,412.1h4.5v3.0h3.0v4.5h-3.0v3.0h-4.5v-3.0h-3.0v-4.5h3.0z"/>
<path d="M346.6,434.1h4.5v3.0h3.0v4.5h-3.0v3.0h-4.5v-3.0h-3.0v-4.5h3.0z"/>
<path d="M374.4,432.9h4.5v3.0h3.0v4.5h-3.0v3.0h-4.5v-3.0h-3.0v-4.5h3.0z"/>
<path d="M385.1,427.6h4.5v3.0h3.0v4.5h-3.0v3.0h-4.5v-3.0h-3.0v-4.5h3.0z"/>
<path d="M411.2,426.4h4.5v3.0h3.0v4.5h-3.0v3.0h-4.5v-3.0h-3.0v-4.5h3.0z"/>
<path d="M390.2,466.7h4.5v3.0h3.0v4.5h-3.0v3.0h-4.5v-3.0h-3.0v-4.5h3.0z"/>
<path d="M444.2,464.6h4.5v3.0h3.0v4.5h-3.0v3.0h-4.5v-3.0h-3.0v-4.5h3.0z"/>
<path d="M478.8,412.6h4.5v3.0h3.0v4.5h-3.0v3.0h-4.5v-3.0h-3.0v-4.5h3.0z"/>
<path d="M486.1,419.3h4.5v3.0h3.0v4.5h-3.0v3.0h-4.5v-3.0h-3.0v-4.5h3.0z"/>
<path d="M480.1,488.4h4.5v3.0h3.0v4.5h-3.0v3.0h-4.5v-3.0h-3.0v-4.5h3.0z"/>
<path d="M496.6,530.1h4.5v3.0h3.0v4.5h-3.0v3.0h-4.5v-3.0h-3.0v-4.5h3.0z"/>
<path d="M487.1,375.2h4.5v3.0h3.0v4.5h-3.0v3.0h-4.5v-3.0h-3.0v-4.5h3.0z"/>
<path d="M495.6,374.5h4.5v3.0h3.0v4.5h-3.0v3.0h-4.5v-3.0h-3.0v-4.5h3.0z"/>
<path d="M488.2,389.3h4.5v3.0h3.0v4.5h-3.0v3.0h-4.5v-3.0h-3.0v-4.5h3.0z"/>
<path d="M515.2,381.6h4.5v3.0h3.0v4.5h-3.0v3.0h-4.5v-3.0h-3.0v-4.5h3.0z"/>
<path d="M506.9,351.8h4.5v3.0h3.0v4.5h-3.0v3.0h-4.5v-3.0h-3.0v-4.5h3.0z"/>
<path d="M506.9,361.4h4.5v3.0h3.0v4.5h-3.0v3.0h-4.5v-3.0h-3.0v-4.5h3.0z"/>
<path d="M530.2,370.9h4.5v3.0h3.0v4.5h-3.0v3.0h-4.5v-3.0h-3.0v-4.5h3.0z"/>
<path d="M550.5,375.0h4.5v3.0h3.0v4.5h-3.0v3.0h-4.5v-3.0h-3.0v-4.5h3.0z"/>
<path d="M537.9,406.7h4.5v3.0h3.0v4.5h-3.0v3.0h-4.5v-3.0h-3.0v-4.5h3.0z"/>
<path d="M516.0,451.9h4.5v3.0h3.0v4.5h-3.0v3.0h-4.5v-3.0h-3.0v-4.5h3.0z"/>
<path d="M517.5,487.7h4.5v3.0h3.0v4.5h-3.0v3.0h-4.5v-3.0h-3.0v-4.5h3.0z"/>
<path d="M596.5,225.5h4.5v3.0h3.0v4.5h-3.0v3.0h-4.5v-3.0h-3.0v-4.5h3.0z"/>
<path d="M596.5,282.4h4.5v3.0h3.0v4.5h-3.0v3.0h-4.5v-3.0h-3.0v-4.5h3.0z"/>
<path d="M596.5,320.1h4.5v3.0h3.0v4.5h-3.0v3.0h-4.5v-3.0h-3.0v-4.5h3.0z"/>
<path d="M596.5,326.0h4.5v3.0h3.0v4.5h-3.0v3.0h-4.5v-3.0h-3.0v-4.5h3.0z"/>
<path d="M596.5,330.7h4.5v3.0h3.0v4.5h-3.0v3.0h-4.5v-3.0h-3.0v-4.5h3.0z"/>
<path d="M595.0,336.7h4.5v3.0h3.0v4.5h-3.0v3.0h-4.5v-3.0h-3.0v-4.5h3.0z"/>
<path d="M547.9,322.5h4.5v3.0h3.0v4.5h-3.0v3.0h-4.5v-3.0h-3.0v-4.5h3.0z"/>
<path d="M554.5,325.3h4.5v3.0h3.0v4.5h-3.0v3.0h-4.5v-3.0h-3.0v-4.5h3.0z"/>
<path d="M552.1,332.0h4.5v3.0h3.0v4.5h-3.0v3.0h-4.5v-3.0h-3.0v-4.5h3.0z"/>
<path d="M566.5,326.5h4.5v3.0h3.0v4.5h-3.0v3.0h-4.5v-3.0h-3.0v-4.5h3.0z"/>
<path d="M574.8,332.5h4.5v3.0h3.0v4.5h-3.0v3.0h-4.5v-3.0h-3.0v-4.5h3.0z"/>
<path d="M559.8,349.1h4.5v3.0h3.0v4.5h-3.0v3.0h-4.5v-3.0h-3.0v-4.5h3.0z"/>
<path d="M577.6,357.7h4.5v3.0h3.0v4.5h-3.0v3.0h-4.5v-3.0h-3.0v-4.5h3.0z"/>
<path d="M581.5,373.3h4.5v3.0h3.0v4.5h-3.0v3.0h-4.5v-3.0h-3.0v-4.5h3.0z"/>
<path d="M569.5,385.2h4.5v3.0h3.0v4.5h-3.0v3.0h-4.5v-3.0h-3.0v-4.5h3.0z"/>
<path d="M567.6,399.0h4.5v3.0h3.0v4.5h-3.0v3.0h-4.5v-3.0h-3.0v-4.5h3.0z"/>
<path d="M596.5,393.6h4.5v3.0h3.0v4.5h-3.0v3.0h-4.5v-3.0h-3.0v-4.5h3.0z"/>
<path d="M585.5,397.1h4.5v3.0h3.0v4.5h-3.0v3.0h-4.5v-3.0h-3.0v-4.5h3.0z"/>
<path d="M589.0,400.0h4.5v3.0h3.0v4.5h-3.0v3.0h-4.5v-3.0h-3.0v-4.5h3.0z"/>
<path d="M592.6,403.1h4.5v3.0h3.0v4.5h-3.0v3.0h-4.5v-3.0h-3.0v-4.5h3.0z"/>
<path d="M596.5,423.3h4.5v3.0h3.0v4.5h-3.0v3.0h-4.5v-3.0h-3.0v-4.5h3.0z"/>
<path d="M583.6,428.1h4.5v3.0h3.0v4.5h-3.0v3.0h-4.5v-3.0h-3.0v-4.5h3.0z"/>
<path d="M596.5,431.7h4.5v3.0h3.0v4.5h-3.0v3.0h-4.5v-3.0h-3.0v-4.5h3.0z"/>
<path d="M591.0,436.5h4.5v3.0h3.0v4.5h-3.0v3.0h-4.5v-3.0h-3.0v-4.5h3.0z"/>
<path d="M564.0,434.8h4.5v3.0h3.0v4.5h-3.0v3.0h-4.5v-3.0h-3.0v-4.5h3.0z"/>
<path d="M546.1,442.9h4.5v3.0h3.0v4.5h-3.0v3.0h-4.5v-3.0h-3.0v-4.5h3.0z"/>
<path d="M547.4,448.4h4.5v3.0h3.0v4.5h-3.0v3.0h-4.5v-3.0h-3.0v-4.5h3.0z"/>
<path d="M582.5,460.3h4.5v3.0h3.0v4.5h-3.0v3.0h-4.5v-3.0h-3.0v-4.5h3.0z"/>
<path d="M596.5,465.1h4.5v3.0h3.0v4.5h-3.0v3.0h-4.5v-3.0h-3.0v-4.5h3.0z"/>
<path d="M596.5,480.5h4.5v3.0h3.0v4.5h-3.0v3.0h-4.5v-3.0h-3.0v-4.5h3.0z"/>
<path d="M596.5,490.7h4.5v3.0h3.0v4.5h-3.0v3.0h-4.5v-3.0h-3.0v-4.5h3.0z"/>
<path d="M596.5,494.7h4.5v3.0h3.0v4.5h-3.0v3.0h-4.5v-3.0h-3.0v-4.5h3.0z"/>
<path d="M576.6,501.3h4.5v3.0h3.0v4.5h-3.0v3.0h-4.5v-3.0h-3.0v-4.5h3.0z"/>
<path d="M596.5,530.1h4.5v3.0h3.0v4.5h-3.0v3.0h-4.5v-3.0h-3.0v-4.5h3.0z"/>
</g>
<g transform="translate(320,333) rotate(5)"><path d="M0,0L-38,-21V-9.6H-66V9.6H-38V21Z" fill="#fff"/><path d="M-16,-1.3L-32.5,-10.3V-4H-58V1.4H-32.5V7.7Z" fill="#000"/></g>
<g transform="translate(599.1,345.4) rotate(-26.6)"><path d="M0,0L39,20.5V9.2H65V-9.2H39V-20.5Z" fill="#fff"/><path d="M15,-1L32.5,8V1.8H58V-3.8H32.5V-10Z" fill="#000"/></g>
<g font-size="40" fill="#000">
<text x="25.8" y="146.4" textLength="78.5" lengthAdjust="spacing">ID01</text>
<text x="468.6" y="155" text-anchor="middle">A</text>
<text x="469" y="635.4" text-anchor="middle">P</text>
<text x="228" y="394.2">L</text>
<text x="680.2" y="394.2">R</text>
<text x="180.6" y="248.5" text-anchor="end">1.0</text>
<text x="180.6" y="400.2" text-anchor="end">0</text>
<text x="180.6" y="551.7" text-anchor="end">−1.0</text>
<text x="337.3" y="705.3" text-anchor="middle">−1.0</text>
<text x="468.8" y="705.3" text-anchor="middle">0</text>
<text x="589.4" y="705.3" text-anchor="middle">1.0</text>
<text x="300.4" y="765.4" textLength="202.8" lengthAdjust="spacing">Normalized</text>
<text x="513.8" y="765.4" font-style="italic" textLength="25.5" lengthAdjust="spacingAndGlyphs">Δ</text>
<text x="546.6" y="765.4" textLength="91.6" lengthAdjust="spacing">(R–L)</text>
<text x="250.7" y="812.4" textLength="434.6" lengthAdjust="spacing">CNS-derived population</text>
<g transform="translate(65,570.4) rotate(-90)"><text x="0" y="0" textLength="203" lengthAdjust="spacing">Normalized</text><text x="217.5" y="0" font-style="italic" textLength="25.5" lengthAdjust="spacingAndGlyphs">Δ</text><text x="245.3" y="0" textLength="167" lengthAdjust="spacing">(Ant-Pos)</text></g>
<text x="846" y="60.3" textLength="61" lengthAdjust="spacing">Ant</text>
<text x="846.1" y="318.5" textLength="70" lengthAdjust="spacing">Pos</text>
</g>
<g fill="#f0f0f0" stroke="#d2d2d2" stroke-width="1.5" stroke-linejoin="round" stroke-linecap="round">
<path d="M857.0,84.0 L855.1,82.3 L852.9,81.1 L850.4,80.5 L847.9,80.7 L845.5,81.5 L843.2,82.5 L840.8,83.5 L838.4,84.1 L835.9,84.6 L833.4,85.0 L830.9,85.4 L828.4,85.9 L826.0,86.6 L823.7,87.5 L821.4,88.6 L819.2,90.0 L817.1,91.4 L815.2,93.1 L813.3,94.8 L811.5,96.6 L809.9,98.6 L808.4,100.7 L807.1,102.8 L805.9,105.0 L804.9,107.3 L804.0,109.7 L803.3,112.1 L802.6,114.5 L802.0,117.0 L801.5,119.5 L801.0,122.0 L800.5,124.5 L800.0,126.9 L799.5,129.4 L799.0,131.9 L798.4,134.3 L797.8,136.7 L797.0,139.2 L796.3,141.6 L795.7,144.0 L795.4,146.5 L795.3,149.1 L795.9,151.6 L797.6,153.6 L800.4,155.0 L802.0,155.8 L800.7,156.6 L797.6,157.5 L794.6,158.6 L792.6,160.1 L791.2,162.1 L790.4,164.5 L790.3,167.1 L791.3,169.3 L793.5,171.1 L795.8,172.3 L795.3,173.1 L792.5,173.8 L789.4,175.0 L787.9,177.1 L787.3,179.6 L787.1,182.2 L786.7,184.8 L786.4,187.2 L786.3,189.7 L786.5,192.2 L786.9,194.7 L787.2,197.2 L787.5,199.7 L788.4,202.1 L790.3,204.3 L792.7,206.2 L793.4,207.6 L791.5,208.7 L788.9,210.1 L787.7,212.3 L787.6,214.9 L788.0,217.5 L788.7,219.8 L789.8,222.1 L791.1,224.3 L792.5,226.4 L793.8,228.6 L795.2,230.6 L796.7,232.7 L798.3,234.6 L800.0,236.5 L801.8,238.3 L803.7,240.0 L805.6,241.6 L807.6,243.1 L809.7,244.6 L811.8,246.0 L813.9,247.3 L816.1,248.6 L818.3,249.8 L820.5,251.0 L822.8,252.1 L825.1,253.2 L827.4,254.2 L829.7,255.2 L832.0,256.2 L834.4,257.0 L836.8,257.8 L839.3,258.3 L841.8,258.6 L844.3,258.5 L846.8,257.9 L849.1,256.9 L851.3,255.7 L853.3,254.2 L855.0,252.3 L856.4,250.1 L857.4,247.8 L857.9,245.4 L858.1,242.8 L858.1,240.3 L858.0,237.7 L857.9,235.2 L857.8,232.6 L857.8,230.1 L857.7,227.5 L857.7,225.0 L857.7,222.5 L857.7,220.0 L857.7,217.5 L857.7,215.0 L857.8,212.5 L857.8,210.0 L857.8,207.5 L857.9,205.0 L857.9,202.4 L858.0,199.9 L858.1,197.4 L858.1,194.9 L858.2,192.3 L858.2,189.8 L858.3,187.3 L858.3,184.7 L858.4,182.2 L858.4,179.6 L858.5,177.1 L858.5,174.6 L858.5,172.0 L858.5,169.5 L858.5,167.0 L858.5,164.5 L858.4,161.9 L858.4,159.4 L858.3,156.9 L858.2,154.5 L858.1,152.0 L858.0,149.5 L857.8,147.1 L857.7,144.6 L857.5,142.2 L857.3,139.7 L857.2,137.3 L857.0,134.9 L856.9,132.4 L856.8,129.9 L856.8,127.4 L856.8,124.9 L856.8,122.4 L857.0,119.8 L857.1,117.2 L857.4,114.5 L857.7,111.8 L858.1,109.1 L858.6,106.3 L859.2,103.6 L859.6,100.8 L860.0,98.1 L860.2,95.4 L860.2,92.8 L860.0,90.4 L859.4,88.1 L858.4,85.9 L857.0,84.0Z"/>
<path d="M862.5,84.5 L864.3,82.7 L866.4,81.3 L868.8,80.5 L871.3,80.0 L873.8,79.7 L876.3,79.6 L878.9,79.7 L881.4,80.0 L883.9,80.5 L886.3,81.2 L888.6,82.1 L890.9,83.3 L893.1,84.6 L895.2,86.0 L897.2,87.5 L899.1,89.2 L901.0,90.9 L902.7,92.7 L904.4,94.6 L906.1,96.5 L907.7,98.5 L909.3,100.5 L910.8,102.5 L912.2,104.6 L913.4,106.8 L914.6,109.0 L915.6,111.3 L916.6,113.8 L917.5,116.1 L918.2,118.3 L918.9,120.5 L919.7,122.8 L920.8,125.9 L922.1,129.3 L922.6,131.4 L921.3,130.7 L919.2,128.5 L918.2,128.4 L918.6,131.0 L919.6,134.5 L920.4,137.2 L921.0,139.5 L921.7,141.6 L922.5,144.0 L923.1,146.5 L923.6,149.0 L924.4,151.3 L926.0,153.3 L927.6,155.3 L928.8,157.6 L929.7,159.9 L930.5,162.3 L931.2,164.7 L932.0,167.1 L932.7,169.6 L933.2,172.0 L933.5,174.6 L933.7,177.1 L933.8,179.6 L933.8,182.1 L933.8,184.7 L933.6,187.2 L933.2,189.7 L932.3,192.1 L930.6,194.3 L929.0,196.4 L928.6,198.5 L929.6,200.7 L931.0,203.1 L931.4,205.6 L931.0,208.1 L930.3,210.6 L929.6,213.1 L928.7,215.4 L927.5,217.6 L926.0,219.7 L924.2,221.5 L922.4,223.3 L921.0,225.3 L920.1,227.7 L919.5,230.2 L918.8,232.6 L917.6,234.8 L916.1,236.9 L914.5,238.9 L912.9,240.8 L911.0,242.5 L909.0,243.9 L906.8,245.3 L904.6,246.5 L902.4,247.8 L900.2,249.1 L898.0,250.4 L895.8,251.6 L893.6,252.8 L891.3,253.9 L889.0,254.9 L886.7,256.0 L884.4,256.9 L882.0,257.8 L879.6,258.6 L877.2,259.3 L874.7,259.7 L872.1,259.7 L869.6,259.1 L867.4,257.8 L865.6,256.0 L864.4,253.8 L863.7,251.4 L863.4,248.9 L863.3,246.3 L863.2,243.7 L863.1,241.2 L863.0,238.7 L862.9,236.2 L862.8,233.7 L862.8,231.2 L862.7,228.6 L862.7,226.1 L862.6,223.6 L862.6,221.1 L862.5,218.5 L862.5,216.0 L862.5,213.5 L862.4,211.0 L862.4,208.4 L862.4,205.9 L862.4,203.3 L862.3,200.8 L862.3,198.2 L862.2,195.7 L862.2,193.2 L862.1,190.6 L862.1,188.1 L862.0,185.5 L862.0,183.0 L861.9,180.4 L861.9,177.9 L861.8,175.3 L861.8,172.8 L861.8,170.3 L861.8,167.7 L861.8,165.2 L861.9,162.7 L861.9,160.2 L862.0,157.7 L862.1,155.2 L862.2,152.7 L862.3,150.2 L862.4,147.8 L862.6,145.3 L862.8,142.8 L863.0,140.4 L863.1,137.9 L863.3,135.4 L863.4,133.0 L863.5,130.5 L863.6,128.0 L863.6,125.5 L863.6,122.9 L863.5,120.3 L863.3,117.7 L863.0,115.1 L862.7,112.5 L862.3,109.8 L861.7,107.0 L861.2,104.3 L860.6,101.5 L860.2,98.8 L859.9,96.2 L859.7,93.6 L859.9,91.1 L860.4,88.8 L861.2,86.5 L862.5,84.5Z"/>
</g>
<g fill="#fff" stroke="#d6d6d6" stroke-width="1" stroke-linejoin="round">
<path d="M823,98 L826,95.5 L828,98.5Z"/>
<path d="M820,128 L823,131 L819.5,134Z"/>
<path d="M838,136 L840.5,138 L837.5,139.5Z"/>
<path d="M829,173 L834,175.5 L830,178.5Z"/>
<path d="M816,234 L826,234.5 L819,238Z"/>
<path d="M888,106 L893,109.5 L886,110Z"/>
<path d="M880,136 L884,141 L879,141.5Z"/>
<path d="M909,183 L915,181.5 L910,188Z"/>
<path d="M900,199 L905,197.5 L902,203Z"/>
<path d="M878,222 L883,225 L877.5,228Z"/>
</g>
<g fill="none" stroke="#d0d0d0" stroke-width="1.5" stroke-linecap="round" stroke-linejoin="round">
<path d="M809.7,105.7 L811.6,103.7 L813.8,102.2 L816.1,100.9 L818.6,99.9 L821.1,98.9 L823.6,98.0 L826.1,96.9 L828.5,95.7 L830.8,94.4 L833.1,93.1 L835.4,91.8 L837.8,90.5 L840.2,89.4 L842.8,88.5 L845.4,87.8"/>
<path d="M815.7,104.5 L817.6,102.6 L819.6,100.8 L821.8,99.1 L824.1,97.6 L826.5,96.4 L829.0,95.3 L831.6,94.5 L834.2,94.0 L836.9,93.6 L839.7,93.5 L842.4,93.5 L845.1,93.6 L847.8,93.8"/>
<path d="M819.2,114.0 L820.4,111.3 L822.3,109.2 L824.6,107.5 L827.0,106.0 L829.5,104.6 L832.0,103.1 L834.5,101.7 L837.0,100.5 L839.7,99.5 L842.5,98.8 L845.4,98.5"/>
<path d="M845.4,98.5 L842.5,98.6 L840.1,99.7 L838.1,101.4 L836.5,103.5 L835.2,105.8 L834.1,108.2 L833.5,110.8 L833.3,113.4 L833.7,116.0 L834.5,118.5 L835.5,121.0 L836.4,123.5 L837.0,126.1 L837.2,128.7 L837.1,131.4 L836.6,134.0 L835.9,136.5 L835.2,139.1 L834.4,141.6 L833.8,144.2 L833.1,146.7 L832.6,149.3 L832.1,151.9 L831.7,154.6 L831.4,157.2 L831.2,159.8 L831.1,162.5 L831.1,165.1"/>
<path d="M837.1,112.8 L838.3,114.0 L839.7,115.1 L841.2,116.1 L842.7,116.8 L844.4,117.3 L846.1,117.6 L847.9,117.5 L849.6,117.1 L851.2,116.4 L852.6,115.4 L853.7,114.0"/>
<path d="M839.5,129.5 L839.7,127.2 L840.1,124.5 L841.0,122.1 L842.7,120.5 L845.1,119.7 L847.8,119.4 L850.3,119.6 L852.4,120.6 L854.2,122.5 L855.4,124.8 L856.1,127.1"/>
<path d="M820.4,116.0 L821.0,118.9 L820.9,121.7 L820.2,124.4 L818.9,127.0 L817.3,129.5 L815.9,132.1 L815.9,134.9 L817.7,137.1 L820.5,136.5 L822.6,134.6 L824.0,132.0 L825.2,129.5"/>
<path d="M808.0,125.0 L808.8,125.2 L809.7,125.5 L810.5,125.7 L811.3,126.0 L812.1,126.2 L813.0,126.5 L813.8,126.8 L814.6,127.1 L815.4,127.4 L816.2,127.7 L817.0,128.0"/>
<path d="M846.0,143.0 L847.0,144.1 L847.9,145.2 L848.8,146.5 L849.5,147.9 L850.0,149.4 L850.4,150.9 L850.5,152.4 L850.4,153.8 L850.1,155.3 L849.4,156.7 L848.5,158.0"/>
<path d="M802.2,177.0 L803.2,179.3 L804.0,181.9 L804.8,184.5 L805.7,187.1 L806.8,189.5 L808.1,191.8 L809.8,193.7 L811.9,195.3 L814.2,196.7 L816.6,198.1 L819.0,199.3 L821.5,200.2 L824.0,200.5 L826.6,200.4 L829.3,200.1 L832.0,199.9 L834.6,200.1 L837.2,200.8 L839.5,202.0 L841.8,203.5 L843.9,205.1 L846.0,206.8 L848.0,208.4"/>
<path d="M797.0,194.0 L797.8,196.6 L799.3,198.7 L801.1,200.6 L802.9,202.5 L804.5,204.5 L806.1,206.7 L807.7,208.7 L809.6,210.6 L811.9,212.0 L814.3,212.7 L817.0,213.0 L819.6,212.9 L822.2,212.7 L824.8,212.2 L827.3,211.6 L829.9,211.0 L832.6,210.7 L835.1,211.1 L837.1,212.7 L838.6,215.0 L839.7,217.5 L840.7,219.9 L841.9,222.1 L843.6,224.2 L845.5,226.0 L847.6,227.7 L849.8,229.0 L852.3,229.7 L855.0,229.5"/>
<path d="M800.9,220.2 L802.9,222.2 L805.2,223.8 L807.7,225.1 L810.2,226.4 L812.5,227.9 L814.6,229.7 L816.7,231.6 L818.9,233.2 L821.6,233.7 L824.4,233.1 L827.2,231.9 L830.0,230.7 L832.5,230.7 L834.6,232.3 L836.4,234.9 L837.6,237.2"/>
<path d="M815.3,237.2 L816.6,238.2 L818.1,238.7 L819.7,239.0 L821.4,239.0 L823.0,239.1 L824.6,239.4 L826.0,239.9 L827.3,240.9 L828.4,242.1 L829.2,243.5 L829.7,245.0"/>
<path d="M817.9,183.5 L820.4,182.3 L822.7,180.6 L825.2,178.8 L827.7,177.4 L830.4,177.0 L833.2,177.8 L835.3,179.7 L836.9,182.1 L838.1,184.7 L839.2,187.3 L840.2,190.0"/>
<path d="M865.7,87.8 L867.9,88.9 L870.2,89.8 L872.6,90.7 L874.9,91.5 L877.3,92.2 L879.7,92.8 L882.1,93.5 L884.5,94.0 L887.0,94.5 L889.4,94.8 L891.9,95.0"/>
<path d="M866.9,100.9 L869.4,101.7 L872.0,102.5 L874.6,103.2 L877.2,103.8 L879.8,104.3 L882.5,104.6 L885.1,104.5 L887.8,103.2 L890.3,102.0 L891.8,103.5 L892.8,106.5 L893.9,108.9 L895.9,110.4 L898.5,111.2 L901.4,111.6 L904.2,111.8 L906.7,112.5 L908.7,114.1 L910.2,116.4 L910.9,119.0 L910.5,121.6 L909.2,124.0 L907.3,125.9"/>
<path d="M863.3,110.4 L865.7,111.7 L868.1,113.0 L870.5,114.3 L872.9,115.6 L875.3,116.9 L877.6,118.3 L879.9,119.8 L882.2,121.4 L884.4,123.0 L886.7,124.6 L889.1,125.8 L891.7,126.3 L894.5,126.4 L897.3,126.2 L900.1,125.8 L902.5,124.7 L904.5,122.8 L905.7,120.3 L906.1,117.6"/>
<path d="M870.5,136.6 L872.6,135.5 L875.4,133.8 L878.0,132.9 L880.0,133.9 L881.4,136.5 L882.6,139.4 L883.5,142.1 L883.3,144.5 L881.8,146.8 L879.6,148.8 L877.2,150.6 L875.2,152.0"/>
<path d="M912.1,125.9 L913.5,128.3 L914.7,130.8 L916.0,133.4 L917.1,136.0 L918.2,138.6 L919.2,141.2 L920.1,143.7 L921.3,146.2 L922.9,149.0 L924.1,151.7 L923.4,154.0 L920.7,155.4 L918.0,155.6"/>
<path d="M874.0,160.0 L874.8,160.8 L875.7,161.7 L876.6,162.8 L877.5,163.9 L878.2,165.2 L878.7,166.5 L879.0,167.7 L879.0,169.0 L878.6,170.1 L877.8,171.1 L876.5,172.0"/>
<path d="M877.2,184.9 L879.7,185.7 L882.3,186.3 L885.0,186.5 L887.6,186.2 L890.1,185.3 L892.4,183.9 L894.6,182.3 L896.7,180.8 L898.8,179.1 L900.8,177.4 L902.8,175.7 L904.8,173.9 L906.8,172.2 L908.9,170.6 L911.1,169.1 L913.4,167.7 L915.7,166.4 L918.1,165.1 L920.4,163.9"/>
<path d="M874.6,216.2 L877.1,215.3 L879.6,214.3 L882.1,213.3 L884.5,212.2 L886.9,210.9 L889.2,209.6 L891.4,208.1 L893.5,206.4 L895.5,204.7 L897.5,202.8 L899.4,200.9 L901.2,199.0 L902.9,196.9 L904.5,194.8 L906.0,192.6 L907.3,190.3 L908.7,188.0 L910.2,185.8 L911.9,183.7 L913.8,181.8 L915.9,180.1 L918.0,178.6 L920.4,177.2 L922.8,176.2 L925.4,175.3 L928.0,174.8"/>
<path d="M874.6,235.9 L877.2,235.1 L879.7,234.2 L882.3,233.2 L884.8,232.1 L887.2,230.9 L889.6,229.5 L891.9,228.1 L894.1,226.6 L896.3,225.0 L898.5,223.3 L900.6,221.6 L902.8,220.0 L905.0,218.4 L907.2,216.8 L909.4,215.2 L911.5,213.4 L913.3,211.5 L914.8,209.2 L916.1,206.8 L917.2,204.3 L918.2,201.7 L919.1,199.2"/>
<path d="M881.2,243.7 L883.8,242.9 L886.3,241.9 L888.8,240.9 L891.3,239.8 L893.8,238.7 L896.2,237.6 L898.7,236.6 L901.3,235.6 L903.8,234.6 L906.3,233.7 L908.8,232.7 L911.4,231.8 L914.0,231.0 L916.5,230.1 L919.1,229.3"/>
<path d="M865.5,204.5 L866.5,203.9 L867.5,203.5 L868.6,203.1 L869.6,202.7 L870.7,202.3 L871.8,202.0 L872.8,201.6 L873.9,201.3 L875.0,200.9 L876.1,200.7 L877.2,200.5"/>
</g>
<path d="M860.2,70.8V272" stroke="#000" stroke-width="4" stroke-dasharray="10.6 5.5" fill="none"/>
<g font-size="40" fill="#000"><text x="805.5" y="173.4">L</text><text x="890" y="173.4">R</text></g>
</g>
</svg>
</body></html>
